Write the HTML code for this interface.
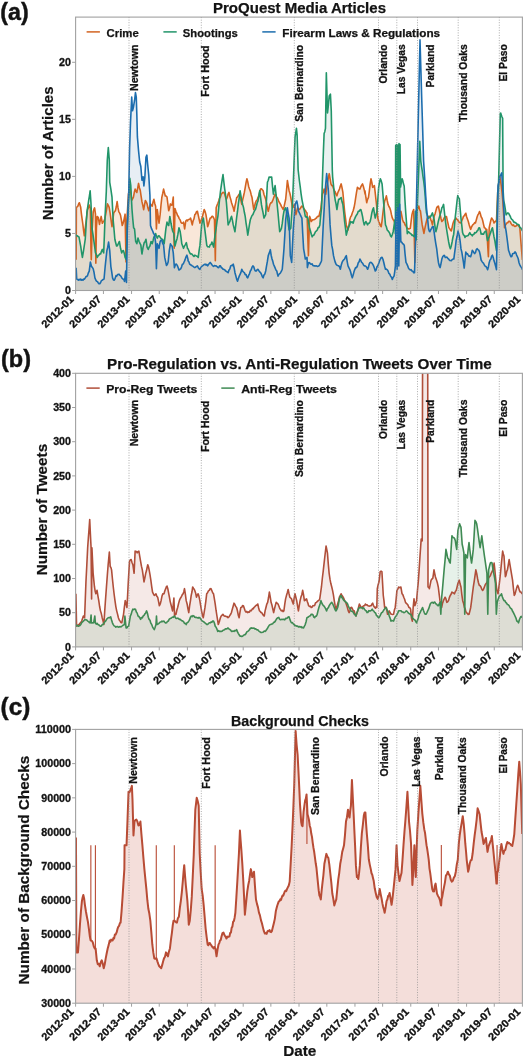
<!DOCTYPE html><html><head><meta charset="utf-8"><style>html,body{margin:0;padding:0;background:#fff;overflow:hidden}svg{display:block}#w{will-change:transform;transform:translateZ(0);opacity:0.99;filter:blur(0.45px)}text{font-family:"Liberation Sans",sans-serif}</style></head><body><div id="w"><svg width="527" height="1060" viewBox="0 0 527 1060" font-family='"Liberation Sans", sans-serif'>
<rect width="527" height="1060" fill="#ffffff"/>
<text x="0.30" y="19.70" font-size="23.5" text-anchor="start" font-weight="bold" fill="#111" stroke="#111" stroke-width="0.45" textLength="28.40" lengthAdjust="spacingAndGlyphs">(a)</text>
<text x="1.00" y="366.80" font-size="23.5" text-anchor="start" font-weight="bold" fill="#111" stroke="#111" stroke-width="0.45" textLength="30.00" lengthAdjust="spacingAndGlyphs">(b)</text>
<text x="0.60" y="714.60" font-size="23.5" text-anchor="start" font-weight="bold" fill="#111" stroke="#111" stroke-width="0.45" textLength="29.80" lengthAdjust="spacingAndGlyphs">(c)</text>
<clipPath id="clipa"><rect x="75.6" y="17.1" width="446.79999999999995" height="273.4"/></clipPath>
<g clip-path="url(#clipa)">
<path d="M76.14,290.50 L76.14,259.70 L76.37,207.33 L77.11,206.87 L77.85,206.19 L78.59,203.95 L79.33,202.77 L80.01,205.05 L80.69,207.33 L81.38,213.69 L82.06,218.71 L82.80,223.75 L83.54,230.10 L84.34,235.79 L85.08,229.54 L85.82,223.27 L86.67,216.67 L87.52,209.60 L88.38,207.93 L89.23,205.05 L90.37,208.46 L90.94,248.31 L91.28,259.70 L92.08,231.24 L93.22,211.88 L93.90,209.37 L94.58,207.89 L95.49,214.16 L95.84,263.12 L96.40,227.82 L97.20,216.43 L98.34,217.57 L99.48,224.40 L100.33,220.11 L101.19,216.43 L102.33,223.27 L103.18,221.76 L104.03,220.99 L104.89,218.38 L105.74,214.16 L106.60,209.31 L107.45,203.91 L108.30,205.44 L109.16,207.33 L110.01,212.47 L110.86,218.71 L112.00,226.68 L112.86,219.94 L113.71,213.02 L114.57,211.59 L115.42,210.74 L116.27,206.77 L117.13,201.63 L117.98,207.64 L118.83,211.88 L119.69,213.10 L120.54,215.30 L121.40,220.04 L122.25,225.54 L123.10,223.18 L123.96,219.85 L125.10,214.16 L126.01,261.98 L126.80,220.99 L127.66,207.34 L128.51,193.66 L129.37,190.98 L130.22,189.11 L130.96,194.13 L131.71,200.49 L132.56,198.90 L133.42,197.08 L134.27,192.54 L135.12,189.11 L135.98,190.99 L136.83,192.52 L137.69,188.16 L138.54,183.42 L139.39,187.69 L140.25,190.25 L141.10,196.18 L141.95,201.63 L142.81,205.42 L143.66,209.60 L144.52,204.94 L145.37,200.49 L146.22,201.85 L147.08,203.91 L147.93,208.04 L148.79,210.74 L149.64,206.90 L150.49,203.91 L151.35,205.39 L152.20,206.19 L153.06,201.92 L153.91,199.36 L154.76,203.42 L155.62,206.19 L156.41,228.96 L157.33,209.60 L158.18,216.34 L159.03,223.27 L160.17,214.16 L161.03,204.77 L161.88,197.08 L162.73,193.46 L163.59,189.11 L164.44,192.57 L165.30,195.94 L166.15,196.06 L167.00,197.08 L167.86,204.02 L168.71,210.74 L169.57,208.13 L170.42,203.91 L171.27,205.12 L172.13,205.05 L173.27,197.08 L174.18,248.31 L174.97,208.46 L175.83,211.34 L176.68,213.02 L177.54,215.62 L178.39,216.43 L179.24,218.61 L180.10,219.85 L180.95,222.36 L181.80,223.27 L182.66,223.19 L183.51,222.13 L184.65,228.96 L185.79,220.99 L186.64,220.14 L187.50,220.99 L188.00,219.77 L188.85,219.52 L189.71,219.34 L190.56,218.06 L191.42,221.49 L192.27,224.89 L193.12,220.72 L193.98,218.91 L194.83,214.64 L195.68,213.90 L196.54,211.66 L197.39,211.23 L198.25,215.27 L199.10,219.11 L199.95,223.18 L200.81,221.24 L201.66,218.73 L202.52,216.35 L203.37,212.69 L204.22,209.52 L205.08,211.48 L205.93,214.64 L206.78,219.96 L207.64,226.60 L208.49,224.28 L209.35,220.72 L210.20,218.06 L211.05,217.98 L211.91,216.31 L212.76,216.35 L213.61,217.73 L214.47,219.77 L215.32,260.75 L216.18,207.81 L217.03,205.28 L217.88,203.22 L218.74,200.98 L219.59,197.99 L220.45,197.15 L221.30,194.15 L222.15,193.17 L223.01,192.41 L223.86,192.45 L224.71,194.28 L225.57,197.23 L226.42,199.28 L227.28,197.27 L228.13,193.94 L228.98,192.45 L229.84,196.36 L230.69,199.16 L231.55,202.69 L232.40,205.16 L233.25,207.73 L234.11,211.23 L234.96,206.01 L235.81,202.31 L236.67,197.57 L237.52,196.85 L238.38,195.52 L239.23,194.15 L240.08,196.81 L240.94,200.62 L241.79,204.40 L242.64,199.85 L243.50,196.25 L244.35,192.45 L245.21,187.63 L246.06,182.57 L246.91,178.78 L247.77,181.85 L248.62,186.42 L249.48,189.03 L250.33,191.12 L251.18,194.66 L252.04,197.57 L252.89,203.94 L253.74,209.52 L254.60,206.04 L255.45,202.69 L256.31,200.70 L257.16,200.10 L258.01,197.57 L258.87,195.34 L259.72,191.95 L260.58,189.03 L261.43,188.75 L262.28,189.68 L263.14,190.74 L263.99,194.45 L264.84,196.75 L265.70,199.28 L266.55,203.16 L267.41,208.11 L268.26,211.23 L269.11,207.51 L269.97,204.40 L270.82,202.85 L271.67,202.65 L272.53,200.98 L273.38,198.73 L274.24,196.30 L275.09,194.15 L275.82,194.72 L276.55,197.27 L277.27,197.70 L278.00,199.28 L278.85,201.66 L279.71,203.03 L280.56,204.40 L281.42,206.39 L282.27,207.77 L283.12,209.52 L283.98,207.00 L284.83,203.12 L285.68,199.28 L286.54,190.36 L287.39,180.49 L288.25,185.70 L289.10,190.74 L289.95,193.52 L290.81,197.57 L291.66,202.46 L292.52,207.81 L293.37,206.86 L294.22,204.40 L295.08,209.61 L295.93,214.64 L296.78,211.08 L297.64,207.81 L298.49,209.15 L299.35,209.52 L300.20,208.61 L301.05,207.11 L301.91,206.11 L302.76,206.55 L303.61,208.17 L304.47,209.52 L305.32,210.33 L306.18,211.90 L307.03,212.94 L307.71,234.49 L308.40,255.63 L309.59,216.35 L310.45,218.48 L311.30,221.48 L312.15,220.19 L313.01,219.71 L313.86,219.77 L314.71,219.39 L315.57,218.45 L316.42,218.06 L317.28,216.62 L318.13,216.17 L318.98,216.35 L319.84,212.19 L320.69,209.52 L321.55,202.43 L322.40,194.15 L323.25,192.47 L324.11,189.03 L324.96,191.57 L325.81,194.15 L326.67,188.17 L327.52,182.20 L328.38,177.75 L329.23,173.66 L330.08,178.56 L330.94,183.91 L331.79,185.63 L332.64,185.61 L333.50,188.55 L334.35,190.74 L335.21,191.78 L336.06,194.55 L336.91,195.86 L337.77,192.80 L338.62,190.84 L339.48,189.03 L340.33,185.97 L341.18,183.91 L342.04,187.86 L342.89,192.45 L343.74,201.80 L344.60,211.23 L345.45,217.84 L346.31,224.89 L347.16,227.65 L348.01,230.01 L348.87,225.44 L349.72,219.77 L350.58,216.89 L351.43,215.74 L352.28,212.94 L353.14,210.77 L353.99,207.81 L354.84,203.37 L355.70,197.57 L356.55,192.12 L357.41,187.32 L358.26,188.07 L359.11,188.88 L359.97,189.03 L360.82,186.80 L361.67,185.14 L362.53,183.91 L363.38,186.57 L364.24,189.84 L365.09,194.15 L365.00,190.74 L365.85,197.24 L366.71,202.69 L367.56,199.38 L368.42,197.57 L369.27,191.58 L370.12,184.43 L370.98,178.78 L371.83,182.50 L372.68,187.32 L373.54,186.57 L374.39,185.61 L375.25,193.15 L376.10,200.98 L376.95,208.74 L377.81,218.06 L378.66,221.50 L379.52,223.18 L380.37,225.71 L381.22,226.60 L382.08,220.59 L382.93,212.94 L383.78,206.18 L384.64,200.98 L385.49,198.89 L386.35,195.86 L387.20,200.50 L388.05,204.40 L388.91,206.49 L389.76,207.81 L390.61,210.43 L391.47,214.64 L392.32,217.93 L393.18,219.77 L394.03,220.63 L394.88,223.18 L395.74,219.98 L396.59,218.06 L397.45,215.00 L398.30,212.94 L399.15,212.17 L400.01,211.42 L400.86,211.23 L401.71,215.50 L402.57,219.77 L403.42,222.03 L404.28,222.62 L405.13,224.89 L405.98,225.87 L406.84,227.92 L407.69,228.31 L408.55,228.97 L409.40,228.64 L410.25,228.31 L411.11,221.37 L411.96,214.64 L412.81,211.47 L413.67,209.52 L414.86,262.46 L415.55,236.75 L416.23,211.23 L417.08,209.44 L417.94,208.30 L418.79,206.11 L419.64,209.52 L420.50,211.23 L421.35,218.27 L422.21,224.89 L423.06,229.03 L423.91,233.43 L424.77,228.97 L425.62,224.89 L426.48,221.10 L427.33,218.06 L428.18,217.55 L429.04,216.29 L429.89,216.35 L430.74,219.55 L431.60,221.47 L432.45,224.89 L433.31,219.93 L434.16,216.35 L435.01,214.00 L435.87,210.88 L436.72,207.81 L437.58,206.51 L438.43,206.11 L439.28,210.47 L440.14,214.64 L440.99,218.52 L441.84,221.48 L442.57,220.68 L443.30,219.97 L444.03,218.06 L444.84,217.22 L445.65,216.60 L446.45,216.45 L447.26,220.31 L448.06,223.76 L448.87,227.74 L449.68,228.54 L450.48,230.15 L451.29,230.97 L452.10,227.48 L452.90,223.78 L453.71,221.29 L454.52,219.73 L455.32,219.17 L456.13,218.06 L456.94,219.38 L457.74,219.97 L458.55,221.29 L459.35,222.56 L460.16,222.76 L460.97,222.90 L461.77,220.58 L462.58,219.00 L463.39,216.45 L464.19,215.93 L465.00,214.39 L465.81,213.23 L466.61,216.73 L467.42,219.04 L468.23,221.29 L469.03,224.32 L469.84,227.10 L470.65,229.35 L471.45,227.21 L472.26,225.53 L473.06,224.52 L473.87,223.86 L474.68,222.56 L475.48,222.90 L476.29,220.03 L477.10,217.02 L477.90,214.84 L478.71,213.63 L479.52,211.61 L480.32,213.60 L481.13,216.78 L481.94,218.06 L482.74,220.79 L483.55,224.40 L484.35,227.74 L485.16,228.00 L485.97,229.68 L486.77,229.35 L487.58,243.37 L488.39,256.77 L489.19,227.74 L490.00,223.96 L490.81,220.45 L491.61,218.06 L492.42,219.22 L493.23,220.40 L494.03,222.90 L494.84,222.08 L495.65,221.02 L496.45,221.29 L497.10,206.30 L497.74,192.26 L498.71,183.53 L499.68,176.13 L500.48,180.70 L501.29,185.81 L502.10,193.22 L502.90,201.94 L503.71,215.68 L504.52,227.74 L505.32,225.30 L506.13,224.11 L506.94,222.90 L507.74,222.76 L508.55,221.28 L509.35,221.29 L510.16,221.64 L510.97,223.40 L511.77,224.52 L512.58,225.49 L513.39,224.73 L514.19,226.13 L515.00,226.47 L515.81,226.02 L516.61,225.80 L517.42,224.52 L518.23,224.94 L519.03,226.25 L519.84,227.74 L520.65,238.51 L521.45,248.71 L522.40,260.00 L522.40,290.50Z" fill="#d55e00" fill-opacity="0.15" stroke="none"/>
<path d="M75.60,290.50 L75.60,234.65 L76.42,235.66 L77.28,235.79 L78.13,236.59 L78.98,236.93 L79.84,241.59 L80.69,246.04 L81.55,252.26 L82.40,257.42 L83.54,250.59 L84.39,245.00 L85.25,239.21 L86.10,225.32 L86.95,211.88 L87.81,206.43 L88.66,200.49 L89.40,196.06 L90.14,190.82 L90.94,202.77 L92.08,228.96 L92.93,234.09 L93.79,240.34 L94.64,246.31 L95.49,252.87 L96.35,254.32 L97.20,257.42 L98.06,255.86 L98.91,255.15 L99.76,253.84 L100.62,254.01 L101.47,251.24 L102.33,249.45 L103.01,251.45 L103.69,252.87 L104.43,234.26 L105.17,214.16 L106.31,191.39 L107.30,160.00 L108.30,147.50 L109.30,160.00 L109.73,182.28 L110.86,189.11 L112.00,197.08 L113.14,219.85 L114.00,229.29 L114.85,239.21 L115.70,242.72 L116.56,246.04 L117.41,245.68 L118.27,243.76 L119.40,241.48 L120.54,248.31 L121.68,252.87 L122.54,250.94 L123.39,250.59 L124.24,253.25 L125.10,257.42 L126.24,259.70 L127.37,225.54 L128.18,210.27 L128.99,194.62 L129.80,178.20 L130.79,185.69 L131.93,208.46 L132.78,219.01 L133.64,227.82 L134.55,228.96 L135.69,241.48 L136.83,243.76 L137.97,238.07 L139.11,241.48 L139.96,243.41 L140.82,244.90 L141.95,254.01 L143.09,247.18 L144.23,242.62 L145.09,241.68 L145.94,239.21 L147.08,247.18 L148.22,249.45 L149.07,247.19 L149.92,246.04 L151.06,241.48 L152.20,243.76 L153.06,240.64 L153.91,236.93 L154.76,235.96 L155.62,233.51 L156.47,236.34 L157.33,238.07 L158.18,236.04 L159.03,235.79 L159.89,236.88 L160.74,238.07 L161.60,238.96 L162.45,239.21 L163.30,240.87 L164.16,243.76 L165.01,236.62 L165.86,228.96 L167.00,222.13 L167.86,224.73 L168.71,225.54 L169.85,216.43 L170.99,223.27 L171.84,227.51 L172.70,231.24 L173.83,233.51 L174.97,246.04 L176.11,241.48 L176.97,238.94 L177.82,234.65 L178.96,227.82 L180.10,231.24 L180.95,236.91 L181.80,243.76 L182.66,245.97 L183.51,248.31 L184.37,246.10 L185.22,244.90 L186.36,242.62 L187.50,248.31 L188.00,248.80 L188.85,250.72 L189.71,252.73 L190.56,253.92 L191.42,253.77 L192.27,254.42 L193.12,255.63 L193.98,256.50 L194.83,255.19 L195.68,255.63 L196.54,256.10 L197.39,256.43 L198.25,257.34 L199.10,250.61 L199.95,245.38 L200.81,235.52 L201.66,224.89 L202.52,220.70 L203.37,218.06 L204.22,224.55 L205.08,231.72 L205.93,238.42 L206.78,245.38 L207.64,246.75 L208.49,246.82 L209.35,247.09 L210.20,244.68 L211.05,244.46 L211.91,241.97 L212.76,244.19 L213.61,247.09 L214.47,239.69 L215.32,233.43 L216.18,227.84 L217.03,221.45 L217.88,216.35 L218.74,207.33 L219.59,199.28 L220.45,191.60 L221.30,185.61 L222.15,179.95 L223.01,174.52 L223.86,181.99 L224.71,189.03 L225.57,195.01 L226.42,202.69 L227.28,213.33 L228.13,224.89 L228.98,222.83 L229.84,221.48 L230.69,218.31 L231.55,216.35 L232.40,220.15 L233.25,224.89 L234.11,228.37 L234.96,231.72 L235.81,224.71 L236.67,217.29 L237.52,211.23 L238.38,203.58 L239.23,197.85 L240.08,190.74 L240.94,195.98 L241.79,200.72 L242.64,204.40 L243.50,207.48 L244.35,212.27 L245.21,216.35 L246.06,223.10 L246.91,228.31 L247.77,235.14 L248.62,229.87 L249.48,224.37 L250.33,219.77 L251.18,217.47 L252.04,215.47 L252.89,214.64 L253.74,212.51 L254.60,210.60 L255.45,209.52 L256.31,206.49 L257.16,202.97 L258.01,200.98 L258.87,196.03 L259.72,190.74 L260.58,197.30 L261.43,204.40 L262.28,209.02 L263.14,213.08 L263.99,218.06 L264.84,216.25 L265.70,214.64 L266.55,198.70 L267.41,182.20 L268.26,180.26 L269.11,177.08 L269.97,177.32 L270.82,177.00 L271.67,177.08 L272.53,186.49 L273.38,194.15 L274.24,189.41 L275.09,185.61 L275.82,192.36 L276.55,198.77 L277.27,205.77 L278.00,212.94 L278.85,222.55 L279.71,231.72 L280.56,230.26 L281.42,228.31 L282.27,223.40 L283.12,216.08 L283.98,211.23 L284.83,208.98 L285.68,207.81 L286.54,212.23 L287.39,216.35 L288.25,223.47 L289.10,230.01 L289.95,229.36 L290.81,228.31 L291.66,215.04 L292.52,202.69 L293.37,181.50 L294.22,158.25 L295.08,136.84 L295.76,132.63 L296.44,128.31 L297.13,135.14 L298.15,169.97 L299.35,180.49 L300.20,186.56 L301.05,193.61 L301.91,199.28 L302.76,203.67 L303.61,207.81 L304.47,211.66 L305.32,216.35 L306.18,217.12 L307.03,216.89 L307.88,218.06 L308.74,223.46 L309.59,228.31 L310.45,230.96 L311.30,234.24 L312.15,236.84 L313.01,235.27 L313.86,235.18 L314.71,233.43 L315.57,231.52 L316.42,230.80 L317.28,230.01 L318.13,227.61 L318.98,227.43 L319.84,224.89 L320.69,215.52 L321.55,207.81 L322.74,169.97 L323.42,150.94 L324.11,133.43 L324.79,131.68 L325.47,128.31 L326.33,72.81 L327.52,112.94 L328.38,105.27 L329.23,95.86 L330.42,94.15 L331.28,111.23 L332.30,169.97 L332.64,177.08 L333.50,185.43 L334.35,194.15 L335.21,200.06 L336.06,203.91 L336.91,209.52 L337.77,204.01 L338.62,199.28 L339.48,199.12 L340.33,198.34 L341.18,197.57 L342.04,201.79 L342.89,204.40 L343.74,212.35 L344.60,221.48 L345.45,227.90 L346.31,235.14 L347.16,231.59 L348.01,228.31 L348.87,226.38 L349.72,224.60 L350.58,221.48 L351.43,222.39 L352.28,221.90 L353.14,223.18 L353.99,220.26 L354.84,218.40 L355.70,216.35 L356.55,214.99 L357.41,213.77 L358.26,211.23 L359.11,211.26 L359.97,209.90 L360.82,209.52 L361.67,212.55 L362.53,216.35 L363.38,221.41 L364.24,224.89 L365.09,222.83 L365.94,221.48 L366.75,223.20 L367.56,224.89 L368.42,223.20 L369.27,223.25 L370.12,221.48 L370.98,217.85 L371.83,212.94 L372.68,209.66 L373.54,207.81 L374.39,213.49 L375.25,218.06 L376.10,214.90 L376.95,211.23 L377.81,199.91 L378.66,187.32 L379.52,182.30 L380.37,178.78 L381.22,180.90 L382.08,183.91 L382.93,194.27 L383.78,204.40 L384.64,215.06 L385.49,224.89 L386.35,226.77 L387.20,230.01 L388.05,230.82 L388.91,231.91 L389.76,233.43 L390.61,235.92 L391.47,236.84 L392.32,234.50 L393.18,231.72 L394.03,225.76 L394.88,219.77 L395.37,233.73 L395.68,145.56 L396.00,223.36 L396.31,144.52 L396.62,228.55 L396.93,145.56 L397.24,223.36 L397.55,145.04 L397.86,228.55 L398.17,145.56 L398.49,223.36 L399.00,143.49 L399.52,218.17 L400.04,144.52 L400.56,187.05 L401.34,182.31 L402.12,178.76 L402.81,180.87 L403.50,184.08 L404.19,186.02 L404.97,200.24 L405.75,212.99 L406.52,222.70 L407.30,233.73 L407.92,232.51 L408.55,231.72 L409.40,232.72 L410.25,233.43 L411.11,233.87 L411.96,235.36 L412.81,235.14 L413.67,236.22 L414.52,236.84 L415.38,211.23 L416.12,239.96 L416.85,219.37 L417.57,199.73 L418.30,180.26 L419.02,161.98 L419.75,141.41 L420.79,161.12 L421.57,166.62 L422.34,171.49 L423.04,176.78 L423.73,181.38 L424.42,187.05 L425.11,195.03 L425.80,205.19 L426.49,212.99 L427.19,214.48 L427.88,217.29 L428.57,218.17 L429.29,217.45 L430.02,217.17 L430.74,216.35 L431.60,214.58 L432.45,212.94 L433.31,216.25 L434.16,219.77 L435.01,226.55 L435.87,231.72 L436.72,228.72 L437.58,224.89 L438.43,220.94 L439.28,217.62 L440.14,214.64 L440.99,211.84 L441.84,207.81 L442.70,206.68 L443.55,204.40 L444.41,212.05 L445.26,219.77 L446.11,226.03 L446.97,231.72 L447.82,236.76 L448.67,241.97 L449.53,246.17 L450.38,248.80 L451.24,246.03 L452.09,241.97 L452.90,237.49 L453.71,234.19 L454.52,225.09 L455.32,216.45 L456.13,209.35 L456.94,201.82 L457.74,195.48 L458.55,197.76 L459.35,198.71 L460.16,208.79 L460.97,218.06 L461.77,225.18 L462.58,232.58 L463.39,234.79 L464.19,235.31 L465.00,237.42 L465.81,235.99 L466.61,236.11 L467.42,235.81 L468.23,235.43 L469.03,233.94 L469.84,232.58 L470.65,234.30 L471.45,234.64 L472.26,235.81 L473.06,234.45 L473.87,234.37 L474.68,232.58 L475.48,232.93 L476.29,232.30 L477.10,230.97 L477.90,230.28 L478.71,228.04 L479.52,227.74 L480.32,230.09 L481.13,234.19 L481.94,233.58 L482.74,234.32 L483.55,234.19 L484.35,232.26 L485.16,231.45 L485.97,230.97 L486.77,236.48 L487.58,240.65 L488.39,238.30 L489.19,236.84 L490.00,234.19 L490.81,232.12 L491.61,229.41 L492.42,227.74 L493.23,232.11 L494.03,236.93 L494.84,240.65 L495.65,245.79 L496.45,250.32 L497.10,220.96 L497.74,192.26 L498.40,190.00 L499.34,151.84 L500.28,113.58 L500.75,113.11 L501.70,116.24 L502.64,118.30 L503.11,190.00 L503.71,200.32 L504.52,204.43 L505.32,209.40 L506.13,214.84 L506.94,213.83 L507.74,212.91 L508.55,213.23 L509.35,214.62 L510.16,216.19 L510.97,218.06 L511.77,219.38 L512.58,219.84 L513.39,221.29 L514.19,222.52 L515.00,222.39 L515.81,222.90 L516.61,223.79 L517.42,224.39 L518.23,224.52 L519.03,225.01 L519.84,227.53 L520.65,227.74 L521.61,229.12 L522.40,230.97 L522.40,290.50Z" fill="#28786e" fill-opacity="0.1" stroke="none"/>
<path d="M76.14,290.50 L76.14,267.67 L76.71,279.05 L77.56,279.40 L78.42,280.19 L79.17,279.27 L79.93,279.91 L80.69,279.05 L81.45,280.20 L82.21,279.49 L82.97,280.19 L83.73,279.04 L84.49,279.17 L85.25,277.92 L86.01,276.52 L86.77,276.37 L87.52,275.64 L88.38,272.82 L89.23,271.09 L90.37,261.98 L91.51,266.53 L92.36,267.42 L93.22,268.81 L94.07,272.51 L94.92,277.92 L95.78,280.00 L96.63,281.33 L97.39,281.54 L98.15,282.73 L98.91,283.61 L99.76,283.68 L100.62,282.47 L101.47,280.46 L102.33,280.19 L103.18,279.42 L104.03,279.05 L105.17,266.53 L106.03,258.44 L106.88,250.59 L107.73,247.13 L108.59,242.05 L109.73,250.59 L110.86,266.53 L111.72,271.78 L112.57,277.92 L113.43,279.91 L114.28,280.19 L115.13,278.33 L115.99,275.64 L116.75,276.12 L117.51,274.60 L118.27,274.50 L119.02,274.11 L119.78,275.25 L120.54,275.64 L121.30,276.95 L122.06,278.24 L122.82,279.05 L123.67,279.31 L124.53,281.33 L125.67,271.09 L126.46,282.47 L127.37,225.54 L128.09,207.43 L128.80,190.00 L129.60,148.30 L130.50,122.70 L130.91,114.16 L131.71,97.08 L132.50,110.74 L133.42,107.33 L134.55,100.49 L135.47,92.52 L136.26,97.08 L136.83,114.16 L137.40,136.93 L138.54,150.59 L139.68,161.98 L140.82,166.53 L141.95,180.19 L143.09,176.78 L143.89,185.89 L144.80,177.92 L145.94,157.42 L146.85,155.15 L147.65,164.25 L148.79,175.64 L149.92,194.99 L150.49,225.54 L151.63,228.96 L152.77,231.24 L153.63,233.61 L154.48,234.65 L155.62,242.62 L156.41,268.81 L157.33,243.76 L158.18,246.37 L159.03,248.31 L160.17,241.48 L161.03,240.14 L161.88,240.34 L162.73,243.48 L163.59,244.90 L164.73,257.42 L165.58,261.43 L166.43,265.39 L167.29,264.39 L168.14,261.98 L169.28,250.59 L170.42,243.76 L171.27,245.46 L172.13,246.04 L173.27,252.87 L174.40,267.67 L175.54,264.25 L176.40,264.17 L177.25,265.39 L178.10,267.50 L178.96,269.95 L179.81,269.47 L180.67,268.81 L181.52,267.09 L182.37,264.25 L183.23,263.99 L184.08,261.98 L184.94,260.12 L185.79,257.42 L186.93,255.15 L188.07,259.70 L188.00,260.75 L188.85,261.77 L189.71,264.17 L190.56,264.72 L191.42,265.24 L192.27,265.87 L193.12,266.40 L193.98,267.15 L194.83,267.58 L195.68,267.03 L196.54,266.43 L197.39,265.87 L198.25,267.66 L199.10,268.73 L199.95,269.29 L200.81,267.52 L201.66,266.46 L202.52,265.87 L203.37,265.21 L204.22,264.52 L205.08,264.17 L205.93,265.05 L206.78,264.46 L207.64,265.87 L208.49,264.58 L209.35,263.37 L210.20,262.46 L211.05,263.52 L211.91,264.76 L212.76,265.87 L213.61,266.41 L214.47,265.48 L215.32,265.87 L216.18,265.85 L217.03,266.53 L217.88,267.58 L218.74,267.70 L219.59,265.82 L220.45,265.87 L221.30,267.70 L222.15,268.07 L223.01,269.29 L223.86,269.37 L224.71,269.74 L225.57,271.00 L226.42,271.27 L227.28,272.04 L228.13,272.70 L228.98,269.96 L229.84,268.94 L230.69,265.87 L231.55,265.34 L232.40,265.63 L233.25,264.17 L234.11,267.70 L234.96,272.70 L235.81,275.74 L236.67,279.16 L237.52,281.24 L238.38,278.41 L239.23,276.12 L240.08,274.32 L240.94,272.40 L241.79,269.29 L242.64,271.20 L243.50,272.00 L244.35,272.70 L245.21,274.63 L246.06,274.48 L246.91,277.08 L247.77,277.83 L248.62,275.40 L249.48,273.78 L250.33,271.00 L251.18,269.74 L252.04,267.18 L252.89,265.87 L253.74,266.77 L254.60,269.53 L255.45,271.00 L256.31,270.94 L257.16,269.66 L258.01,269.29 L258.87,270.71 L259.72,271.86 L260.58,272.70 L261.43,274.25 L262.28,276.56 L263.14,277.83 L263.99,275.07 L264.84,273.95 L265.70,271.00 L266.55,265.80 L267.41,261.21 L268.26,255.63 L268.94,253.68 L269.63,252.17 L270.31,249.65 L271.16,255.23 L272.02,259.04 L272.76,261.14 L273.50,264.23 L274.24,265.87 L275.09,267.89 L275.94,269.97 L276.80,271.00 L277.40,273.83 L278.00,276.12 L278.85,274.30 L279.71,273.68 L280.56,272.70 L281.42,271.22 L282.27,269.29 L283.12,259.44 L283.98,248.80 L284.83,234.88 L285.68,219.77 L286.54,213.04 L287.39,207.81 L288.25,213.51 L289.10,218.06 L290.30,255.63 L290.98,258.71 L291.66,262.46 L292.52,244.90 L293.37,228.31 L294.22,217.08 L295.08,204.40 L295.93,202.48 L296.78,200.98 L297.64,205.23 L298.49,211.23 L299.35,212.71 L300.20,214.64 L301.05,216.43 L301.91,218.06 L302.76,234.22 L303.61,248.80 L304.47,253.63 L305.32,259.04 L306.18,258.48 L307.03,257.34 L307.37,267.58 L308.05,264.48 L308.74,262.46 L309.59,262.82 L310.45,263.98 L311.30,264.17 L312.15,263.84 L313.01,265.53 L313.86,265.87 L314.71,265.81 L315.57,266.09 L316.42,265.87 L317.28,266.39 L318.13,266.20 L318.98,265.87 L319.84,264.37 L320.69,262.71 L321.55,260.75 L322.40,242.83 L323.25,224.89 L324.11,209.94 L324.96,194.15 L325.81,183.24 L326.67,173.66 L327.52,181.73 L328.38,190.74 L329.23,206.97 L330.08,224.89 L330.94,235.55 L331.79,245.38 L332.64,249.66 L333.50,255.63 L334.35,259.09 L335.21,262.18 L336.06,264.17 L336.91,265.14 L337.77,265.56 L338.62,265.87 L339.48,266.70 L340.33,269.29 L341.18,265.33 L342.04,262.46 L342.89,260.84 L343.74,259.85 L344.60,259.04 L345.45,256.93 L346.31,255.63 L347.16,261.36 L348.01,265.87 L348.87,267.70 L349.72,269.29 L350.58,271.78 L351.43,275.22 L352.28,277.83 L353.14,274.93 L353.99,271.87 L354.84,269.29 L355.70,267.44 L356.55,267.66 L357.41,265.87 L358.26,262.73 L359.11,261.79 L359.97,259.04 L360.82,260.54 L361.67,262.46 L362.53,263.05 L363.38,264.70 L364.24,265.87 L365.09,265.89 L365.94,266.37 L366.80,267.58 L367.56,269.29 L368.42,267.43 L369.27,263.88 L370.12,262.46 L370.98,262.31 L371.83,263.00 L372.68,264.17 L373.54,265.85 L374.39,268.24 L375.25,271.00 L376.10,269.89 L376.95,266.82 L377.81,265.87 L378.66,263.56 L379.52,261.00 L380.37,259.04 L381.22,257.45 L382.08,257.34 L382.93,259.26 L383.78,262.46 L384.64,266.24 L385.49,269.29 L386.35,269.04 L387.20,269.76 L388.05,271.00 L388.91,273.40 L389.76,274.13 L390.61,276.12 L391.47,277.28 L392.32,279.54 L393.18,277.27 L394.03,276.12 L394.71,271.87 L395.40,265.87 L396.08,211.23 L397.10,269.29 L397.79,207.81 L398.81,265.87 L399.67,204.40 L400.86,241.97 L401.71,242.03 L402.57,243.67 L403.42,244.00 L404.28,245.38 L405.13,254.78 L405.98,262.46 L406.84,263.89 L407.69,265.87 L408.55,268.31 L409.40,269.29 L410.25,269.97 L411.11,269.60 L411.96,271.00 L412.81,271.23 L413.67,272.76 L414.52,272.70 L415.20,250.19 L415.89,228.31 L416.71,190.41 L417.53,153.16 L418.36,114.39 L419.18,77.78 L420.00,39.90 L420.90,70.21 L421.79,100.67 L422.69,129.95 L423.59,161.12 L424.26,171.08 L424.94,181.87 L425.72,195.73 L426.49,207.80 L427.19,214.74 L427.88,221.67 L428.57,228.55 L429.23,230.99 L429.89,231.72 L430.74,229.71 L431.60,228.31 L432.45,226.71 L433.31,226.60 L434.16,232.35 L435.01,238.55 L435.87,244.01 L436.72,248.80 L437.58,256.34 L438.43,262.46 L439.28,265.82 L440.14,267.58 L440.99,263.57 L441.84,259.04 L442.70,256.77 L443.55,255.63 L444.41,255.41 L445.26,257.49 L446.11,257.34 L446.97,257.15 L447.82,258.28 L448.67,259.04 L449.53,260.36 L450.38,260.43 L451.24,260.75 L452.09,259.71 L452.94,259.07 L453.80,259.04 L454.57,253.22 L455.35,247.52 L456.13,240.65 L457.10,236.27 L458.06,230.97 L458.71,234.11 L459.35,235.81 L460.16,241.44 L460.97,248.71 L461.77,251.90 L462.58,256.77 L463.39,261.80 L464.19,268.06 L465.00,260.27 L465.81,251.94 L466.61,253.91 L467.42,253.65 L468.23,255.16 L469.03,256.28 L469.84,256.10 L470.65,256.77 L471.45,253.99 L472.26,250.32 L473.06,251.20 L473.87,252.67 L474.68,253.55 L475.48,252.58 L476.29,249.59 L477.10,248.71 L477.90,249.59 L478.71,250.17 L479.52,251.94 L480.32,255.50 L481.13,260.00 L481.94,261.37 L482.74,262.59 L483.55,263.23 L484.35,265.02 L485.16,266.15 L485.97,266.45 L486.77,267.65 L487.58,269.68 L488.39,266.93 L489.19,262.69 L490.00,260.00 L490.81,259.26 L491.61,256.21 L492.42,255.16 L493.23,257.46 L494.03,260.85 L494.84,263.23 L495.65,266.19 L496.45,269.68 L497.26,227.05 L498.06,185.81 L499.03,181.73 L500.00,176.13 L500.89,174.68 L501.77,172.90 L502.90,192.26 L503.71,206.95 L504.52,221.29 L505.32,226.63 L506.13,231.30 L506.94,237.42 L507.74,243.57 L508.55,250.32 L509.35,252.49 L510.16,254.88 L510.97,256.77 L511.77,256.51 L512.58,253.84 L513.39,253.55 L514.19,253.25 L515.00,251.94 L515.81,252.74 L516.61,255.10 L517.42,256.77 L518.23,258.76 L519.03,262.78 L519.84,264.84 L520.75,266.62 L521.67,267.83 L522.40,269.68 L522.40,290.50Z" fill="#145a96" fill-opacity="0.1" stroke="none"/>
<path d="M76.14,259.70 L76.37,207.33 L77.11,206.87 L77.85,206.19 L78.59,203.95 L79.33,202.77 L80.01,205.05 L80.69,207.33 L81.38,213.69 L82.06,218.71 L82.80,223.75 L83.54,230.10 L84.34,235.79 L85.08,229.54 L85.82,223.27 L86.67,216.67 L87.52,209.60 L88.38,207.93 L89.23,205.05 L90.37,208.46 L90.94,248.31 L91.28,259.70 L92.08,231.24 L93.22,211.88 L93.90,209.37 L94.58,207.89 L95.49,214.16 L95.84,263.12 L96.40,227.82 L97.20,216.43 L98.34,217.57 L99.48,224.40 L100.33,220.11 L101.19,216.43 L102.33,223.27 L103.18,221.76 L104.03,220.99 L104.89,218.38 L105.74,214.16 L106.60,209.31 L107.45,203.91 L108.30,205.44 L109.16,207.33 L110.01,212.47 L110.86,218.71 L112.00,226.68 L112.86,219.94 L113.71,213.02 L114.57,211.59 L115.42,210.74 L116.27,206.77 L117.13,201.63 L117.98,207.64 L118.83,211.88 L119.69,213.10 L120.54,215.30 L121.40,220.04 L122.25,225.54 L123.10,223.18 L123.96,219.85 L125.10,214.16 L126.01,261.98 L126.80,220.99 L127.66,207.34 L128.51,193.66 L129.37,190.98 L130.22,189.11 L130.96,194.13 L131.71,200.49 L132.56,198.90 L133.42,197.08 L134.27,192.54 L135.12,189.11 L135.98,190.99 L136.83,192.52 L137.69,188.16 L138.54,183.42 L139.39,187.69 L140.25,190.25 L141.10,196.18 L141.95,201.63 L142.81,205.42 L143.66,209.60 L144.52,204.94 L145.37,200.49 L146.22,201.85 L147.08,203.91 L147.93,208.04 L148.79,210.74 L149.64,206.90 L150.49,203.91 L151.35,205.39 L152.20,206.19 L153.06,201.92 L153.91,199.36 L154.76,203.42 L155.62,206.19 L156.41,228.96 L157.33,209.60 L158.18,216.34 L159.03,223.27 L160.17,214.16 L161.03,204.77 L161.88,197.08 L162.73,193.46 L163.59,189.11 L164.44,192.57 L165.30,195.94 L166.15,196.06 L167.00,197.08 L167.86,204.02 L168.71,210.74 L169.57,208.13 L170.42,203.91 L171.27,205.12 L172.13,205.05 L173.27,197.08 L174.18,248.31 L174.97,208.46 L175.83,211.34 L176.68,213.02 L177.54,215.62 L178.39,216.43 L179.24,218.61 L180.10,219.85 L180.95,222.36 L181.80,223.27 L182.66,223.19 L183.51,222.13 L184.65,228.96 L185.79,220.99 L186.64,220.14 L187.50,220.99 L188.00,219.77 L188.85,219.52 L189.71,219.34 L190.56,218.06 L191.42,221.49 L192.27,224.89 L193.12,220.72 L193.98,218.91 L194.83,214.64 L195.68,213.90 L196.54,211.66 L197.39,211.23 L198.25,215.27 L199.10,219.11 L199.95,223.18 L200.81,221.24 L201.66,218.73 L202.52,216.35 L203.37,212.69 L204.22,209.52 L205.08,211.48 L205.93,214.64 L206.78,219.96 L207.64,226.60 L208.49,224.28 L209.35,220.72 L210.20,218.06 L211.05,217.98 L211.91,216.31 L212.76,216.35 L213.61,217.73 L214.47,219.77 L215.32,260.75 L216.18,207.81 L217.03,205.28 L217.88,203.22 L218.74,200.98 L219.59,197.99 L220.45,197.15 L221.30,194.15 L222.15,193.17 L223.01,192.41 L223.86,192.45 L224.71,194.28 L225.57,197.23 L226.42,199.28 L227.28,197.27 L228.13,193.94 L228.98,192.45 L229.84,196.36 L230.69,199.16 L231.55,202.69 L232.40,205.16 L233.25,207.73 L234.11,211.23 L234.96,206.01 L235.81,202.31 L236.67,197.57 L237.52,196.85 L238.38,195.52 L239.23,194.15 L240.08,196.81 L240.94,200.62 L241.79,204.40 L242.64,199.85 L243.50,196.25 L244.35,192.45 L245.21,187.63 L246.06,182.57 L246.91,178.78 L247.77,181.85 L248.62,186.42 L249.48,189.03 L250.33,191.12 L251.18,194.66 L252.04,197.57 L252.89,203.94 L253.74,209.52 L254.60,206.04 L255.45,202.69 L256.31,200.70 L257.16,200.10 L258.01,197.57 L258.87,195.34 L259.72,191.95 L260.58,189.03 L261.43,188.75 L262.28,189.68 L263.14,190.74 L263.99,194.45 L264.84,196.75 L265.70,199.28 L266.55,203.16 L267.41,208.11 L268.26,211.23 L269.11,207.51 L269.97,204.40 L270.82,202.85 L271.67,202.65 L272.53,200.98 L273.38,198.73 L274.24,196.30 L275.09,194.15 L275.82,194.72 L276.55,197.27 L277.27,197.70 L278.00,199.28 L278.85,201.66 L279.71,203.03 L280.56,204.40 L281.42,206.39 L282.27,207.77 L283.12,209.52 L283.98,207.00 L284.83,203.12 L285.68,199.28 L286.54,190.36 L287.39,180.49 L288.25,185.70 L289.10,190.74 L289.95,193.52 L290.81,197.57 L291.66,202.46 L292.52,207.81 L293.37,206.86 L294.22,204.40 L295.08,209.61 L295.93,214.64 L296.78,211.08 L297.64,207.81 L298.49,209.15 L299.35,209.52 L300.20,208.61 L301.05,207.11 L301.91,206.11 L302.76,206.55 L303.61,208.17 L304.47,209.52 L305.32,210.33 L306.18,211.90 L307.03,212.94 L307.71,234.49 L308.40,255.63 L309.59,216.35 L310.45,218.48 L311.30,221.48 L312.15,220.19 L313.01,219.71 L313.86,219.77 L314.71,219.39 L315.57,218.45 L316.42,218.06 L317.28,216.62 L318.13,216.17 L318.98,216.35 L319.84,212.19 L320.69,209.52 L321.55,202.43 L322.40,194.15 L323.25,192.47 L324.11,189.03 L324.96,191.57 L325.81,194.15 L326.67,188.17 L327.52,182.20 L328.38,177.75 L329.23,173.66 L330.08,178.56 L330.94,183.91 L331.79,185.63 L332.64,185.61 L333.50,188.55 L334.35,190.74 L335.21,191.78 L336.06,194.55 L336.91,195.86 L337.77,192.80 L338.62,190.84 L339.48,189.03 L340.33,185.97 L341.18,183.91 L342.04,187.86 L342.89,192.45 L343.74,201.80 L344.60,211.23 L345.45,217.84 L346.31,224.89 L347.16,227.65 L348.01,230.01 L348.87,225.44 L349.72,219.77 L350.58,216.89 L351.43,215.74 L352.28,212.94 L353.14,210.77 L353.99,207.81 L354.84,203.37 L355.70,197.57 L356.55,192.12 L357.41,187.32 L358.26,188.07 L359.11,188.88 L359.97,189.03 L360.82,186.80 L361.67,185.14 L362.53,183.91 L363.38,186.57 L364.24,189.84 L365.09,194.15 L365.00,190.74 L365.85,197.24 L366.71,202.69 L367.56,199.38 L368.42,197.57 L369.27,191.58 L370.12,184.43 L370.98,178.78 L371.83,182.50 L372.68,187.32 L373.54,186.57 L374.39,185.61 L375.25,193.15 L376.10,200.98 L376.95,208.74 L377.81,218.06 L378.66,221.50 L379.52,223.18 L380.37,225.71 L381.22,226.60 L382.08,220.59 L382.93,212.94 L383.78,206.18 L384.64,200.98 L385.49,198.89 L386.35,195.86 L387.20,200.50 L388.05,204.40 L388.91,206.49 L389.76,207.81 L390.61,210.43 L391.47,214.64 L392.32,217.93 L393.18,219.77 L394.03,220.63 L394.88,223.18 L395.74,219.98 L396.59,218.06 L397.45,215.00 L398.30,212.94 L399.15,212.17 L400.01,211.42 L400.86,211.23 L401.71,215.50 L402.57,219.77 L403.42,222.03 L404.28,222.62 L405.13,224.89 L405.98,225.87 L406.84,227.92 L407.69,228.31 L408.55,228.97 L409.40,228.64 L410.25,228.31 L411.11,221.37 L411.96,214.64 L412.81,211.47 L413.67,209.52 L414.86,262.46 L415.55,236.75 L416.23,211.23 L417.08,209.44 L417.94,208.30 L418.79,206.11 L419.64,209.52 L420.50,211.23 L421.35,218.27 L422.21,224.89 L423.06,229.03 L423.91,233.43 L424.77,228.97 L425.62,224.89 L426.48,221.10 L427.33,218.06 L428.18,217.55 L429.04,216.29 L429.89,216.35 L430.74,219.55 L431.60,221.47 L432.45,224.89 L433.31,219.93 L434.16,216.35 L435.01,214.00 L435.87,210.88 L436.72,207.81 L437.58,206.51 L438.43,206.11 L439.28,210.47 L440.14,214.64 L440.99,218.52 L441.84,221.48 L442.57,220.68 L443.30,219.97 L444.03,218.06 L444.84,217.22 L445.65,216.60 L446.45,216.45 L447.26,220.31 L448.06,223.76 L448.87,227.74 L449.68,228.54 L450.48,230.15 L451.29,230.97 L452.10,227.48 L452.90,223.78 L453.71,221.29 L454.52,219.73 L455.32,219.17 L456.13,218.06 L456.94,219.38 L457.74,219.97 L458.55,221.29 L459.35,222.56 L460.16,222.76 L460.97,222.90 L461.77,220.58 L462.58,219.00 L463.39,216.45 L464.19,215.93 L465.00,214.39 L465.81,213.23 L466.61,216.73 L467.42,219.04 L468.23,221.29 L469.03,224.32 L469.84,227.10 L470.65,229.35 L471.45,227.21 L472.26,225.53 L473.06,224.52 L473.87,223.86 L474.68,222.56 L475.48,222.90 L476.29,220.03 L477.10,217.02 L477.90,214.84 L478.71,213.63 L479.52,211.61 L480.32,213.60 L481.13,216.78 L481.94,218.06 L482.74,220.79 L483.55,224.40 L484.35,227.74 L485.16,228.00 L485.97,229.68 L486.77,229.35 L487.58,243.37 L488.39,256.77 L489.19,227.74 L490.00,223.96 L490.81,220.45 L491.61,218.06 L492.42,219.22 L493.23,220.40 L494.03,222.90 L494.84,222.08 L495.65,221.02 L496.45,221.29 L497.10,206.30 L497.74,192.26 L498.71,183.53 L499.68,176.13 L500.48,180.70 L501.29,185.81 L502.10,193.22 L502.90,201.94 L503.71,215.68 L504.52,227.74 L505.32,225.30 L506.13,224.11 L506.94,222.90 L507.74,222.76 L508.55,221.28 L509.35,221.29 L510.16,221.64 L510.97,223.40 L511.77,224.52 L512.58,225.49 L513.39,224.73 L514.19,226.13 L515.00,226.47 L515.81,226.02 L516.61,225.80 L517.42,224.52 L518.23,224.94 L519.03,226.25 L519.84,227.74 L520.65,238.51 L521.45,248.71 L522.40,260.00" fill="none" stroke="#d3621f" stroke-width="1.6" stroke-linejoin="round"/>
<path d="M75.60,234.65 L76.42,235.66 L77.28,235.79 L78.13,236.59 L78.98,236.93 L79.84,241.59 L80.69,246.04 L81.55,252.26 L82.40,257.42 L83.54,250.59 L84.39,245.00 L85.25,239.21 L86.10,225.32 L86.95,211.88 L87.81,206.43 L88.66,200.49 L89.40,196.06 L90.14,190.82 L90.94,202.77 L92.08,228.96 L92.93,234.09 L93.79,240.34 L94.64,246.31 L95.49,252.87 L96.35,254.32 L97.20,257.42 L98.06,255.86 L98.91,255.15 L99.76,253.84 L100.62,254.01 L101.47,251.24 L102.33,249.45 L103.01,251.45 L103.69,252.87 L104.43,234.26 L105.17,214.16 L106.31,191.39 L107.30,160.00 L108.30,147.50 L109.30,160.00 L109.73,182.28 L110.86,189.11 L112.00,197.08 L113.14,219.85 L114.00,229.29 L114.85,239.21 L115.70,242.72 L116.56,246.04 L117.41,245.68 L118.27,243.76 L119.40,241.48 L120.54,248.31 L121.68,252.87 L122.54,250.94 L123.39,250.59 L124.24,253.25 L125.10,257.42 L126.24,259.70 L127.37,225.54 L128.18,210.27 L128.99,194.62 L129.80,178.20 L130.79,185.69 L131.93,208.46 L132.78,219.01 L133.64,227.82 L134.55,228.96 L135.69,241.48 L136.83,243.76 L137.97,238.07 L139.11,241.48 L139.96,243.41 L140.82,244.90 L141.95,254.01 L143.09,247.18 L144.23,242.62 L145.09,241.68 L145.94,239.21 L147.08,247.18 L148.22,249.45 L149.07,247.19 L149.92,246.04 L151.06,241.48 L152.20,243.76 L153.06,240.64 L153.91,236.93 L154.76,235.96 L155.62,233.51 L156.47,236.34 L157.33,238.07 L158.18,236.04 L159.03,235.79 L159.89,236.88 L160.74,238.07 L161.60,238.96 L162.45,239.21 L163.30,240.87 L164.16,243.76 L165.01,236.62 L165.86,228.96 L167.00,222.13 L167.86,224.73 L168.71,225.54 L169.85,216.43 L170.99,223.27 L171.84,227.51 L172.70,231.24 L173.83,233.51 L174.97,246.04 L176.11,241.48 L176.97,238.94 L177.82,234.65 L178.96,227.82 L180.10,231.24 L180.95,236.91 L181.80,243.76 L182.66,245.97 L183.51,248.31 L184.37,246.10 L185.22,244.90 L186.36,242.62 L187.50,248.31 L188.00,248.80 L188.85,250.72 L189.71,252.73 L190.56,253.92 L191.42,253.77 L192.27,254.42 L193.12,255.63 L193.98,256.50 L194.83,255.19 L195.68,255.63 L196.54,256.10 L197.39,256.43 L198.25,257.34 L199.10,250.61 L199.95,245.38 L200.81,235.52 L201.66,224.89 L202.52,220.70 L203.37,218.06 L204.22,224.55 L205.08,231.72 L205.93,238.42 L206.78,245.38 L207.64,246.75 L208.49,246.82 L209.35,247.09 L210.20,244.68 L211.05,244.46 L211.91,241.97 L212.76,244.19 L213.61,247.09 L214.47,239.69 L215.32,233.43 L216.18,227.84 L217.03,221.45 L217.88,216.35 L218.74,207.33 L219.59,199.28 L220.45,191.60 L221.30,185.61 L222.15,179.95 L223.01,174.52 L223.86,181.99 L224.71,189.03 L225.57,195.01 L226.42,202.69 L227.28,213.33 L228.13,224.89 L228.98,222.83 L229.84,221.48 L230.69,218.31 L231.55,216.35 L232.40,220.15 L233.25,224.89 L234.11,228.37 L234.96,231.72 L235.81,224.71 L236.67,217.29 L237.52,211.23 L238.38,203.58 L239.23,197.85 L240.08,190.74 L240.94,195.98 L241.79,200.72 L242.64,204.40 L243.50,207.48 L244.35,212.27 L245.21,216.35 L246.06,223.10 L246.91,228.31 L247.77,235.14 L248.62,229.87 L249.48,224.37 L250.33,219.77 L251.18,217.47 L252.04,215.47 L252.89,214.64 L253.74,212.51 L254.60,210.60 L255.45,209.52 L256.31,206.49 L257.16,202.97 L258.01,200.98 L258.87,196.03 L259.72,190.74 L260.58,197.30 L261.43,204.40 L262.28,209.02 L263.14,213.08 L263.99,218.06 L264.84,216.25 L265.70,214.64 L266.55,198.70 L267.41,182.20 L268.26,180.26 L269.11,177.08 L269.97,177.32 L270.82,177.00 L271.67,177.08 L272.53,186.49 L273.38,194.15 L274.24,189.41 L275.09,185.61 L275.82,192.36 L276.55,198.77 L277.27,205.77 L278.00,212.94 L278.85,222.55 L279.71,231.72 L280.56,230.26 L281.42,228.31 L282.27,223.40 L283.12,216.08 L283.98,211.23 L284.83,208.98 L285.68,207.81 L286.54,212.23 L287.39,216.35 L288.25,223.47 L289.10,230.01 L289.95,229.36 L290.81,228.31 L291.66,215.04 L292.52,202.69 L293.37,181.50 L294.22,158.25 L295.08,136.84 L295.76,132.63 L296.44,128.31 L297.13,135.14 L298.15,169.97 L299.35,180.49 L300.20,186.56 L301.05,193.61 L301.91,199.28 L302.76,203.67 L303.61,207.81 L304.47,211.66 L305.32,216.35 L306.18,217.12 L307.03,216.89 L307.88,218.06 L308.74,223.46 L309.59,228.31 L310.45,230.96 L311.30,234.24 L312.15,236.84 L313.01,235.27 L313.86,235.18 L314.71,233.43 L315.57,231.52 L316.42,230.80 L317.28,230.01 L318.13,227.61 L318.98,227.43 L319.84,224.89 L320.69,215.52 L321.55,207.81 L322.74,169.97 L323.42,150.94 L324.11,133.43 L324.79,131.68 L325.47,128.31 L326.33,72.81 L327.52,112.94 L328.38,105.27 L329.23,95.86 L330.42,94.15 L331.28,111.23 L332.30,169.97 L332.64,177.08 L333.50,185.43 L334.35,194.15 L335.21,200.06 L336.06,203.91 L336.91,209.52 L337.77,204.01 L338.62,199.28 L339.48,199.12 L340.33,198.34 L341.18,197.57 L342.04,201.79 L342.89,204.40 L343.74,212.35 L344.60,221.48 L345.45,227.90 L346.31,235.14 L347.16,231.59 L348.01,228.31 L348.87,226.38 L349.72,224.60 L350.58,221.48 L351.43,222.39 L352.28,221.90 L353.14,223.18 L353.99,220.26 L354.84,218.40 L355.70,216.35 L356.55,214.99 L357.41,213.77 L358.26,211.23 L359.11,211.26 L359.97,209.90 L360.82,209.52 L361.67,212.55 L362.53,216.35 L363.38,221.41 L364.24,224.89 L365.09,222.83 L365.94,221.48 L366.75,223.20 L367.56,224.89 L368.42,223.20 L369.27,223.25 L370.12,221.48 L370.98,217.85 L371.83,212.94 L372.68,209.66 L373.54,207.81 L374.39,213.49 L375.25,218.06 L376.10,214.90 L376.95,211.23 L377.81,199.91 L378.66,187.32 L379.52,182.30 L380.37,178.78 L381.22,180.90 L382.08,183.91 L382.93,194.27 L383.78,204.40 L384.64,215.06 L385.49,224.89 L386.35,226.77 L387.20,230.01 L388.05,230.82 L388.91,231.91 L389.76,233.43 L390.61,235.92 L391.47,236.84 L392.32,234.50 L393.18,231.72 L394.03,225.76 L394.88,219.77 L395.37,233.73 L395.68,145.56 L396.00,223.36 L396.31,144.52 L396.62,228.55 L396.93,145.56 L397.24,223.36 L397.55,145.04 L397.86,228.55 L398.17,145.56 L398.49,223.36 L399.00,143.49 L399.52,218.17 L400.04,144.52 L400.56,187.05 L401.34,182.31 L402.12,178.76 L402.81,180.87 L403.50,184.08 L404.19,186.02 L404.97,200.24 L405.75,212.99 L406.52,222.70 L407.30,233.73 L407.92,232.51 L408.55,231.72 L409.40,232.72 L410.25,233.43 L411.11,233.87 L411.96,235.36 L412.81,235.14 L413.67,236.22 L414.52,236.84 L415.38,211.23 L416.12,239.96 L416.85,219.37 L417.57,199.73 L418.30,180.26 L419.02,161.98 L419.75,141.41 L420.79,161.12 L421.57,166.62 L422.34,171.49 L423.04,176.78 L423.73,181.38 L424.42,187.05 L425.11,195.03 L425.80,205.19 L426.49,212.99 L427.19,214.48 L427.88,217.29 L428.57,218.17 L429.29,217.45 L430.02,217.17 L430.74,216.35 L431.60,214.58 L432.45,212.94 L433.31,216.25 L434.16,219.77 L435.01,226.55 L435.87,231.72 L436.72,228.72 L437.58,224.89 L438.43,220.94 L439.28,217.62 L440.14,214.64 L440.99,211.84 L441.84,207.81 L442.70,206.68 L443.55,204.40 L444.41,212.05 L445.26,219.77 L446.11,226.03 L446.97,231.72 L447.82,236.76 L448.67,241.97 L449.53,246.17 L450.38,248.80 L451.24,246.03 L452.09,241.97 L452.90,237.49 L453.71,234.19 L454.52,225.09 L455.32,216.45 L456.13,209.35 L456.94,201.82 L457.74,195.48 L458.55,197.76 L459.35,198.71 L460.16,208.79 L460.97,218.06 L461.77,225.18 L462.58,232.58 L463.39,234.79 L464.19,235.31 L465.00,237.42 L465.81,235.99 L466.61,236.11 L467.42,235.81 L468.23,235.43 L469.03,233.94 L469.84,232.58 L470.65,234.30 L471.45,234.64 L472.26,235.81 L473.06,234.45 L473.87,234.37 L474.68,232.58 L475.48,232.93 L476.29,232.30 L477.10,230.97 L477.90,230.28 L478.71,228.04 L479.52,227.74 L480.32,230.09 L481.13,234.19 L481.94,233.58 L482.74,234.32 L483.55,234.19 L484.35,232.26 L485.16,231.45 L485.97,230.97 L486.77,236.48 L487.58,240.65 L488.39,238.30 L489.19,236.84 L490.00,234.19 L490.81,232.12 L491.61,229.41 L492.42,227.74 L493.23,232.11 L494.03,236.93 L494.84,240.65 L495.65,245.79 L496.45,250.32 L497.10,220.96 L497.74,192.26 L498.40,190.00 L499.34,151.84 L500.28,113.58 L500.75,113.11 L501.70,116.24 L502.64,118.30 L503.11,190.00 L503.71,200.32 L504.52,204.43 L505.32,209.40 L506.13,214.84 L506.94,213.83 L507.74,212.91 L508.55,213.23 L509.35,214.62 L510.16,216.19 L510.97,218.06 L511.77,219.38 L512.58,219.84 L513.39,221.29 L514.19,222.52 L515.00,222.39 L515.81,222.90 L516.61,223.79 L517.42,224.39 L518.23,224.52 L519.03,225.01 L519.84,227.53 L520.65,227.74 L521.61,229.12 L522.40,230.97" fill="none" stroke="#1f9468" stroke-width="1.6" stroke-linejoin="round"/>
<path d="M76.14,267.67 L76.71,279.05 L77.56,279.40 L78.42,280.19 L79.17,279.27 L79.93,279.91 L80.69,279.05 L81.45,280.20 L82.21,279.49 L82.97,280.19 L83.73,279.04 L84.49,279.17 L85.25,277.92 L86.01,276.52 L86.77,276.37 L87.52,275.64 L88.38,272.82 L89.23,271.09 L90.37,261.98 L91.51,266.53 L92.36,267.42 L93.22,268.81 L94.07,272.51 L94.92,277.92 L95.78,280.00 L96.63,281.33 L97.39,281.54 L98.15,282.73 L98.91,283.61 L99.76,283.68 L100.62,282.47 L101.47,280.46 L102.33,280.19 L103.18,279.42 L104.03,279.05 L105.17,266.53 L106.03,258.44 L106.88,250.59 L107.73,247.13 L108.59,242.05 L109.73,250.59 L110.86,266.53 L111.72,271.78 L112.57,277.92 L113.43,279.91 L114.28,280.19 L115.13,278.33 L115.99,275.64 L116.75,276.12 L117.51,274.60 L118.27,274.50 L119.02,274.11 L119.78,275.25 L120.54,275.64 L121.30,276.95 L122.06,278.24 L122.82,279.05 L123.67,279.31 L124.53,281.33 L125.67,271.09 L126.46,282.47 L127.37,225.54 L128.09,207.43 L128.80,190.00 L129.60,148.30 L130.50,122.70 L130.91,114.16 L131.71,97.08 L132.50,110.74 L133.42,107.33 L134.55,100.49 L135.47,92.52 L136.26,97.08 L136.83,114.16 L137.40,136.93 L138.54,150.59 L139.68,161.98 L140.82,166.53 L141.95,180.19 L143.09,176.78 L143.89,185.89 L144.80,177.92 L145.94,157.42 L146.85,155.15 L147.65,164.25 L148.79,175.64 L149.92,194.99 L150.49,225.54 L151.63,228.96 L152.77,231.24 L153.63,233.61 L154.48,234.65 L155.62,242.62 L156.41,268.81 L157.33,243.76 L158.18,246.37 L159.03,248.31 L160.17,241.48 L161.03,240.14 L161.88,240.34 L162.73,243.48 L163.59,244.90 L164.73,257.42 L165.58,261.43 L166.43,265.39 L167.29,264.39 L168.14,261.98 L169.28,250.59 L170.42,243.76 L171.27,245.46 L172.13,246.04 L173.27,252.87 L174.40,267.67 L175.54,264.25 L176.40,264.17 L177.25,265.39 L178.10,267.50 L178.96,269.95 L179.81,269.47 L180.67,268.81 L181.52,267.09 L182.37,264.25 L183.23,263.99 L184.08,261.98 L184.94,260.12 L185.79,257.42 L186.93,255.15 L188.07,259.70 L188.00,260.75 L188.85,261.77 L189.71,264.17 L190.56,264.72 L191.42,265.24 L192.27,265.87 L193.12,266.40 L193.98,267.15 L194.83,267.58 L195.68,267.03 L196.54,266.43 L197.39,265.87 L198.25,267.66 L199.10,268.73 L199.95,269.29 L200.81,267.52 L201.66,266.46 L202.52,265.87 L203.37,265.21 L204.22,264.52 L205.08,264.17 L205.93,265.05 L206.78,264.46 L207.64,265.87 L208.49,264.58 L209.35,263.37 L210.20,262.46 L211.05,263.52 L211.91,264.76 L212.76,265.87 L213.61,266.41 L214.47,265.48 L215.32,265.87 L216.18,265.85 L217.03,266.53 L217.88,267.58 L218.74,267.70 L219.59,265.82 L220.45,265.87 L221.30,267.70 L222.15,268.07 L223.01,269.29 L223.86,269.37 L224.71,269.74 L225.57,271.00 L226.42,271.27 L227.28,272.04 L228.13,272.70 L228.98,269.96 L229.84,268.94 L230.69,265.87 L231.55,265.34 L232.40,265.63 L233.25,264.17 L234.11,267.70 L234.96,272.70 L235.81,275.74 L236.67,279.16 L237.52,281.24 L238.38,278.41 L239.23,276.12 L240.08,274.32 L240.94,272.40 L241.79,269.29 L242.64,271.20 L243.50,272.00 L244.35,272.70 L245.21,274.63 L246.06,274.48 L246.91,277.08 L247.77,277.83 L248.62,275.40 L249.48,273.78 L250.33,271.00 L251.18,269.74 L252.04,267.18 L252.89,265.87 L253.74,266.77 L254.60,269.53 L255.45,271.00 L256.31,270.94 L257.16,269.66 L258.01,269.29 L258.87,270.71 L259.72,271.86 L260.58,272.70 L261.43,274.25 L262.28,276.56 L263.14,277.83 L263.99,275.07 L264.84,273.95 L265.70,271.00 L266.55,265.80 L267.41,261.21 L268.26,255.63 L268.94,253.68 L269.63,252.17 L270.31,249.65 L271.16,255.23 L272.02,259.04 L272.76,261.14 L273.50,264.23 L274.24,265.87 L275.09,267.89 L275.94,269.97 L276.80,271.00 L277.40,273.83 L278.00,276.12 L278.85,274.30 L279.71,273.68 L280.56,272.70 L281.42,271.22 L282.27,269.29 L283.12,259.44 L283.98,248.80 L284.83,234.88 L285.68,219.77 L286.54,213.04 L287.39,207.81 L288.25,213.51 L289.10,218.06 L290.30,255.63 L290.98,258.71 L291.66,262.46 L292.52,244.90 L293.37,228.31 L294.22,217.08 L295.08,204.40 L295.93,202.48 L296.78,200.98 L297.64,205.23 L298.49,211.23 L299.35,212.71 L300.20,214.64 L301.05,216.43 L301.91,218.06 L302.76,234.22 L303.61,248.80 L304.47,253.63 L305.32,259.04 L306.18,258.48 L307.03,257.34 L307.37,267.58 L308.05,264.48 L308.74,262.46 L309.59,262.82 L310.45,263.98 L311.30,264.17 L312.15,263.84 L313.01,265.53 L313.86,265.87 L314.71,265.81 L315.57,266.09 L316.42,265.87 L317.28,266.39 L318.13,266.20 L318.98,265.87 L319.84,264.37 L320.69,262.71 L321.55,260.75 L322.40,242.83 L323.25,224.89 L324.11,209.94 L324.96,194.15 L325.81,183.24 L326.67,173.66 L327.52,181.73 L328.38,190.74 L329.23,206.97 L330.08,224.89 L330.94,235.55 L331.79,245.38 L332.64,249.66 L333.50,255.63 L334.35,259.09 L335.21,262.18 L336.06,264.17 L336.91,265.14 L337.77,265.56 L338.62,265.87 L339.48,266.70 L340.33,269.29 L341.18,265.33 L342.04,262.46 L342.89,260.84 L343.74,259.85 L344.60,259.04 L345.45,256.93 L346.31,255.63 L347.16,261.36 L348.01,265.87 L348.87,267.70 L349.72,269.29 L350.58,271.78 L351.43,275.22 L352.28,277.83 L353.14,274.93 L353.99,271.87 L354.84,269.29 L355.70,267.44 L356.55,267.66 L357.41,265.87 L358.26,262.73 L359.11,261.79 L359.97,259.04 L360.82,260.54 L361.67,262.46 L362.53,263.05 L363.38,264.70 L364.24,265.87 L365.09,265.89 L365.94,266.37 L366.80,267.58 L367.56,269.29 L368.42,267.43 L369.27,263.88 L370.12,262.46 L370.98,262.31 L371.83,263.00 L372.68,264.17 L373.54,265.85 L374.39,268.24 L375.25,271.00 L376.10,269.89 L376.95,266.82 L377.81,265.87 L378.66,263.56 L379.52,261.00 L380.37,259.04 L381.22,257.45 L382.08,257.34 L382.93,259.26 L383.78,262.46 L384.64,266.24 L385.49,269.29 L386.35,269.04 L387.20,269.76 L388.05,271.00 L388.91,273.40 L389.76,274.13 L390.61,276.12 L391.47,277.28 L392.32,279.54 L393.18,277.27 L394.03,276.12 L394.71,271.87 L395.40,265.87 L396.08,211.23 L397.10,269.29 L397.79,207.81 L398.81,265.87 L399.67,204.40 L400.86,241.97 L401.71,242.03 L402.57,243.67 L403.42,244.00 L404.28,245.38 L405.13,254.78 L405.98,262.46 L406.84,263.89 L407.69,265.87 L408.55,268.31 L409.40,269.29 L410.25,269.97 L411.11,269.60 L411.96,271.00 L412.81,271.23 L413.67,272.76 L414.52,272.70 L415.20,250.19 L415.89,228.31 L416.71,190.41 L417.53,153.16 L418.36,114.39 L419.18,77.78 L420.00,39.90 L420.90,70.21 L421.79,100.67 L422.69,129.95 L423.59,161.12 L424.26,171.08 L424.94,181.87 L425.72,195.73 L426.49,207.80 L427.19,214.74 L427.88,221.67 L428.57,228.55 L429.23,230.99 L429.89,231.72 L430.74,229.71 L431.60,228.31 L432.45,226.71 L433.31,226.60 L434.16,232.35 L435.01,238.55 L435.87,244.01 L436.72,248.80 L437.58,256.34 L438.43,262.46 L439.28,265.82 L440.14,267.58 L440.99,263.57 L441.84,259.04 L442.70,256.77 L443.55,255.63 L444.41,255.41 L445.26,257.49 L446.11,257.34 L446.97,257.15 L447.82,258.28 L448.67,259.04 L449.53,260.36 L450.38,260.43 L451.24,260.75 L452.09,259.71 L452.94,259.07 L453.80,259.04 L454.57,253.22 L455.35,247.52 L456.13,240.65 L457.10,236.27 L458.06,230.97 L458.71,234.11 L459.35,235.81 L460.16,241.44 L460.97,248.71 L461.77,251.90 L462.58,256.77 L463.39,261.80 L464.19,268.06 L465.00,260.27 L465.81,251.94 L466.61,253.91 L467.42,253.65 L468.23,255.16 L469.03,256.28 L469.84,256.10 L470.65,256.77 L471.45,253.99 L472.26,250.32 L473.06,251.20 L473.87,252.67 L474.68,253.55 L475.48,252.58 L476.29,249.59 L477.10,248.71 L477.90,249.59 L478.71,250.17 L479.52,251.94 L480.32,255.50 L481.13,260.00 L481.94,261.37 L482.74,262.59 L483.55,263.23 L484.35,265.02 L485.16,266.15 L485.97,266.45 L486.77,267.65 L487.58,269.68 L488.39,266.93 L489.19,262.69 L490.00,260.00 L490.81,259.26 L491.61,256.21 L492.42,255.16 L493.23,257.46 L494.03,260.85 L494.84,263.23 L495.65,266.19 L496.45,269.68 L497.26,227.05 L498.06,185.81 L499.03,181.73 L500.00,176.13 L500.89,174.68 L501.77,172.90 L502.90,192.26 L503.71,206.95 L504.52,221.29 L505.32,226.63 L506.13,231.30 L506.94,237.42 L507.74,243.57 L508.55,250.32 L509.35,252.49 L510.16,254.88 L510.97,256.77 L511.77,256.51 L512.58,253.84 L513.39,253.55 L514.19,253.25 L515.00,251.94 L515.81,252.74 L516.61,255.10 L517.42,256.77 L518.23,258.76 L519.03,262.78 L519.84,264.84 L520.75,266.62 L521.67,267.83 L522.40,269.68" fill="none" stroke="#1a6cae" stroke-width="1.6" stroke-linejoin="round"/>
<line x1="129.0" y1="17.1" x2="129.0" y2="290.5" stroke="#8c8c8c" stroke-opacity="0.8" stroke-width="0.9" stroke-dasharray="1 1.55"/>
<line x1="201.3" y1="17.1" x2="201.3" y2="290.5" stroke="#8c8c8c" stroke-opacity="0.8" stroke-width="0.9" stroke-dasharray="1 1.55"/>
<line x1="294.3" y1="17.1" x2="294.3" y2="290.5" stroke="#8c8c8c" stroke-opacity="0.8" stroke-width="0.9" stroke-dasharray="1 1.55"/>
<line x1="378.5" y1="17.1" x2="378.5" y2="290.5" stroke="#8c8c8c" stroke-opacity="0.8" stroke-width="0.9" stroke-dasharray="1 1.55"/>
<line x1="396.8" y1="17.1" x2="396.8" y2="290.5" stroke="#8c8c8c" stroke-opacity="0.8" stroke-width="0.9" stroke-dasharray="1 1.55"/>
<line x1="417.5" y1="17.1" x2="417.5" y2="290.5" stroke="#8c8c8c" stroke-opacity="0.8" stroke-width="0.9" stroke-dasharray="1 1.55"/>
<line x1="458.2" y1="17.1" x2="458.2" y2="290.5" stroke="#8c8c8c" stroke-opacity="0.8" stroke-width="0.9" stroke-dasharray="1 1.55"/>
<line x1="499.3" y1="17.1" x2="499.3" y2="290.5" stroke="#8c8c8c" stroke-opacity="0.8" stroke-width="0.9" stroke-dasharray="1 1.55"/>
</g>
<rect x="75.6" y="17.1" width="446.79999999999995" height="273.4" fill="none" stroke="#a0a0a0" stroke-width="1.1"/>
<line x1="72.1" y1="290.50" x2="75.6" y2="290.50" stroke="#a0a0a0" stroke-width="1"/>
<text x="71.00" y="294.20" font-size="10.6" text-anchor="end" font-weight="bold" fill="#111" stroke="#111" stroke-width="0.3" textLength="5.95" lengthAdjust="spacingAndGlyphs">0</text>
<line x1="72.1" y1="233.45" x2="75.6" y2="233.45" stroke="#a0a0a0" stroke-width="1"/>
<text x="71.00" y="237.15" font-size="10.6" text-anchor="end" font-weight="bold" fill="#111" stroke="#111" stroke-width="0.3" textLength="5.95" lengthAdjust="spacingAndGlyphs">5</text>
<line x1="72.1" y1="176.39" x2="75.6" y2="176.39" stroke="#a0a0a0" stroke-width="1"/>
<text x="71.00" y="180.09" font-size="10.6" text-anchor="end" font-weight="bold" fill="#111" stroke="#111" stroke-width="0.3" textLength="11.90" lengthAdjust="spacingAndGlyphs">10</text>
<line x1="72.1" y1="119.34" x2="75.6" y2="119.34" stroke="#a0a0a0" stroke-width="1"/>
<text x="71.00" y="123.04" font-size="10.6" text-anchor="end" font-weight="bold" fill="#111" stroke="#111" stroke-width="0.3" textLength="11.90" lengthAdjust="spacingAndGlyphs">15</text>
<line x1="72.1" y1="62.29" x2="75.6" y2="62.29" stroke="#a0a0a0" stroke-width="1"/>
<text x="71.00" y="65.99" font-size="10.6" text-anchor="end" font-weight="bold" fill="#111" stroke="#111" stroke-width="0.3" textLength="11.90" lengthAdjust="spacingAndGlyphs">20</text>
<line x1="75.60" y1="290.5" x2="75.60" y2="294.0" stroke="#a0a0a0" stroke-width="1"/>
<text x="74.40" y="299.80" font-size="10.6" text-anchor="end" font-weight="bold" fill="#111" stroke="#111" stroke-width="0.3" textLength="40.50" lengthAdjust="spacingAndGlyphs" transform="rotate(-45 74.40 299.80)">2012-01</text>
<line x1="103.43" y1="290.5" x2="103.43" y2="294.0" stroke="#a0a0a0" stroke-width="1"/>
<text x="102.23" y="299.80" font-size="10.6" text-anchor="end" font-weight="bold" fill="#111" stroke="#111" stroke-width="0.3" textLength="40.50" lengthAdjust="spacingAndGlyphs" transform="rotate(-45 102.23 299.80)">2012-07</text>
<line x1="131.56" y1="290.5" x2="131.56" y2="294.0" stroke="#a0a0a0" stroke-width="1"/>
<text x="130.36" y="299.80" font-size="10.6" text-anchor="end" font-weight="bold" fill="#111" stroke="#111" stroke-width="0.3" textLength="40.50" lengthAdjust="spacingAndGlyphs" transform="rotate(-45 130.36 299.80)">2013-01</text>
<line x1="159.24" y1="290.5" x2="159.24" y2="294.0" stroke="#a0a0a0" stroke-width="1"/>
<text x="158.04" y="299.80" font-size="10.6" text-anchor="end" font-weight="bold" fill="#111" stroke="#111" stroke-width="0.3" textLength="40.50" lengthAdjust="spacingAndGlyphs" transform="rotate(-45 158.04 299.80)">2013-07</text>
<line x1="187.38" y1="290.5" x2="187.38" y2="294.0" stroke="#a0a0a0" stroke-width="1"/>
<text x="186.18" y="299.80" font-size="10.6" text-anchor="end" font-weight="bold" fill="#111" stroke="#111" stroke-width="0.3" textLength="40.50" lengthAdjust="spacingAndGlyphs" transform="rotate(-45 186.18 299.80)">2014-01</text>
<line x1="215.05" y1="290.5" x2="215.05" y2="294.0" stroke="#a0a0a0" stroke-width="1"/>
<text x="213.85" y="299.80" font-size="10.6" text-anchor="end" font-weight="bold" fill="#111" stroke="#111" stroke-width="0.3" textLength="40.50" lengthAdjust="spacingAndGlyphs" transform="rotate(-45 213.85 299.80)">2014-07</text>
<line x1="243.19" y1="290.5" x2="243.19" y2="294.0" stroke="#a0a0a0" stroke-width="1"/>
<text x="241.99" y="299.80" font-size="10.6" text-anchor="end" font-weight="bold" fill="#111" stroke="#111" stroke-width="0.3" textLength="40.50" lengthAdjust="spacingAndGlyphs" transform="rotate(-45 241.99 299.80)">2015-01</text>
<line x1="270.86" y1="290.5" x2="270.86" y2="294.0" stroke="#a0a0a0" stroke-width="1"/>
<text x="269.66" y="299.80" font-size="10.6" text-anchor="end" font-weight="bold" fill="#111" stroke="#111" stroke-width="0.3" textLength="40.50" lengthAdjust="spacingAndGlyphs" transform="rotate(-45 269.66 299.80)">2015-07</text>
<line x1="299.00" y1="290.5" x2="299.00" y2="294.0" stroke="#a0a0a0" stroke-width="1"/>
<text x="297.80" y="299.80" font-size="10.6" text-anchor="end" font-weight="bold" fill="#111" stroke="#111" stroke-width="0.3" textLength="40.50" lengthAdjust="spacingAndGlyphs" transform="rotate(-45 297.80 299.80)">2016-01</text>
<line x1="326.83" y1="290.5" x2="326.83" y2="294.0" stroke="#a0a0a0" stroke-width="1"/>
<text x="325.63" y="299.80" font-size="10.6" text-anchor="end" font-weight="bold" fill="#111" stroke="#111" stroke-width="0.3" textLength="40.50" lengthAdjust="spacingAndGlyphs" transform="rotate(-45 325.63 299.80)">2016-07</text>
<line x1="354.96" y1="290.5" x2="354.96" y2="294.0" stroke="#a0a0a0" stroke-width="1"/>
<text x="353.76" y="299.80" font-size="10.6" text-anchor="end" font-weight="bold" fill="#111" stroke="#111" stroke-width="0.3" textLength="40.50" lengthAdjust="spacingAndGlyphs" transform="rotate(-45 353.76 299.80)">2017-01</text>
<line x1="382.64" y1="290.5" x2="382.64" y2="294.0" stroke="#a0a0a0" stroke-width="1"/>
<text x="381.44" y="299.80" font-size="10.6" text-anchor="end" font-weight="bold" fill="#111" stroke="#111" stroke-width="0.3" textLength="40.50" lengthAdjust="spacingAndGlyphs" transform="rotate(-45 381.44 299.80)">2017-07</text>
<line x1="410.78" y1="290.5" x2="410.78" y2="294.0" stroke="#a0a0a0" stroke-width="1"/>
<text x="409.58" y="299.80" font-size="10.6" text-anchor="end" font-weight="bold" fill="#111" stroke="#111" stroke-width="0.3" textLength="40.50" lengthAdjust="spacingAndGlyphs" transform="rotate(-45 409.58 299.80)">2018-01</text>
<line x1="438.45" y1="290.5" x2="438.45" y2="294.0" stroke="#a0a0a0" stroke-width="1"/>
<text x="437.25" y="299.80" font-size="10.6" text-anchor="end" font-weight="bold" fill="#111" stroke="#111" stroke-width="0.3" textLength="40.50" lengthAdjust="spacingAndGlyphs" transform="rotate(-45 437.25 299.80)">2018-07</text>
<line x1="466.59" y1="290.5" x2="466.59" y2="294.0" stroke="#a0a0a0" stroke-width="1"/>
<text x="465.39" y="299.80" font-size="10.6" text-anchor="end" font-weight="bold" fill="#111" stroke="#111" stroke-width="0.3" textLength="40.50" lengthAdjust="spacingAndGlyphs" transform="rotate(-45 465.39 299.80)">2019-01</text>
<line x1="494.26" y1="290.5" x2="494.26" y2="294.0" stroke="#a0a0a0" stroke-width="1"/>
<text x="493.06" y="299.80" font-size="10.6" text-anchor="end" font-weight="bold" fill="#111" stroke="#111" stroke-width="0.3" textLength="40.50" lengthAdjust="spacingAndGlyphs" transform="rotate(-45 493.06 299.80)">2019-07</text>
<line x1="522.40" y1="290.5" x2="522.40" y2="294.0" stroke="#a0a0a0" stroke-width="1"/>
<text x="521.20" y="299.80" font-size="10.6" text-anchor="end" font-weight="bold" fill="#111" stroke="#111" stroke-width="0.3" textLength="40.50" lengthAdjust="spacingAndGlyphs" transform="rotate(-45 521.20 299.80)">2020-01</text>
<text x="213.00" y="13.30" font-size="14.8" text-anchor="start" font-weight="bold" fill="#111" stroke="#111" stroke-width="0.25" textLength="173.00" lengthAdjust="spacingAndGlyphs">ProQuest Media Articles</text>
<line x1="86.6" y1="31.900000000000002" x2="99.89999999999999" y2="31.900000000000002" stroke="#d3621f" stroke-width="1.5"/>
<text x="106.60" y="36.80" font-size="10.8" text-anchor="start" font-weight="bold" fill="#111" stroke="#111" stroke-width="0.25" textLength="32.20" lengthAdjust="spacingAndGlyphs">Crime</text>
<line x1="163.4" y1="31.900000000000002" x2="176.70000000000002" y2="31.900000000000002" stroke="#1f9468" stroke-width="1.5"/>
<text x="182.80" y="36.80" font-size="10.8" text-anchor="start" font-weight="bold" fill="#111" stroke="#111" stroke-width="0.25" textLength="55.00" lengthAdjust="spacingAndGlyphs">Shootings</text>
<line x1="262.3" y1="31.900000000000002" x2="275.6" y2="31.900000000000002" stroke="#1a6cae" stroke-width="1.5"/>
<text x="282.30" y="36.80" font-size="10.8" text-anchor="start" font-weight="bold" fill="#111" stroke="#111" stroke-width="0.25" textLength="157.80" lengthAdjust="spacingAndGlyphs">Firearm Laws &amp; Regulations</text>
<text x="53.30" y="220.20" font-size="14" text-anchor="start" font-weight="bold" fill="#111" stroke="#111" stroke-width="0.2" textLength="133.70" lengthAdjust="spacingAndGlyphs" transform="rotate(-90 53.30 220.20)">Number of Articles</text>
<text x="137.60" y="91.00" font-size="10.8" text-anchor="start" font-weight="bold" fill="#111" stroke="#111" stroke-width="0.3" textLength="46.50" lengthAdjust="spacingAndGlyphs" transform="rotate(-90 137.60 91.00)">Newtown</text>
<text x="209.40" y="96.70" font-size="10.8" text-anchor="start" font-weight="bold" fill="#111" stroke="#111" stroke-width="0.3" textLength="51.30" lengthAdjust="spacingAndGlyphs" transform="rotate(-90 209.40 96.70)">Fort Hood</text>
<text x="302.80" y="121.80" font-size="10.8" text-anchor="start" font-weight="bold" fill="#111" stroke="#111" stroke-width="0.3" textLength="77.00" lengthAdjust="spacingAndGlyphs" transform="rotate(-90 302.80 121.80)">San Bernardino</text>
<text x="386.60" y="83.60" font-size="10.8" text-anchor="start" font-weight="bold" fill="#111" stroke="#111" stroke-width="0.3" textLength="39.20" lengthAdjust="spacingAndGlyphs" transform="rotate(-90 386.60 83.60)">Orlando</text>
<text x="404.90" y="94.20" font-size="10.8" text-anchor="start" font-weight="bold" fill="#111" stroke="#111" stroke-width="0.3" textLength="49.80" lengthAdjust="spacingAndGlyphs" transform="rotate(-90 404.90 94.20)">Las Vegas</text>
<text x="433.90" y="87.40" font-size="10.8" text-anchor="start" font-weight="bold" fill="#111" stroke="#111" stroke-width="0.3" textLength="43.00" lengthAdjust="spacingAndGlyphs" transform="rotate(-90 433.90 87.40)">Parkland</text>
<text x="466.60" y="122.00" font-size="10.8" text-anchor="start" font-weight="bold" fill="#111" stroke="#111" stroke-width="0.3" textLength="77.70" lengthAdjust="spacingAndGlyphs" transform="rotate(-90 466.60 122.00)">Thousand Oaks</text>
<text x="507.40" y="81.50" font-size="10.8" text-anchor="start" font-weight="bold" fill="#111" stroke="#111" stroke-width="0.3" textLength="37.20" lengthAdjust="spacingAndGlyphs" transform="rotate(-90 507.40 81.50)">El Paso</text>
<clipPath id="clipb"><rect x="75.6" y="373.3" width="446.79999999999995" height="273.59999999999997"/></clipPath>
<g clip-path="url(#clipb)">
<path d="M75.90,646.90 L75.90,593.80 L76.56,626.24 L77.42,625.37 L78.27,625.00 L79.12,624.54 L79.98,623.20 L80.83,622.32 L81.68,621.12 L82.54,618.56 L83.39,616.00 L84.59,617.70 L85.27,600.09 L85.95,581.84 L86.81,565.26 L87.66,547.69 L88.34,538.36 L89.03,529.20 L89.71,519.52 L90.39,534.10 L91.08,547.69 L91.59,598.92 L91.93,547.69 L93.13,573.31 L93.81,580.36 L94.49,586.97 L95.17,591.22 L95.86,593.80 L97.05,590.38 L97.91,595.79 L98.76,600.63 L99.61,606.49 L100.47,610.87 L101.32,613.60 L102.18,617.70 L103.03,620.86 L103.88,624.54 L104.74,610.87 L105.59,598.67 L106.45,586.97 L107.30,575.68 L108.15,564.77 L109.35,551.96 L110.20,566.48 L110.89,567.41 L111.57,569.89 L112.42,578.75 L113.28,586.97 L114.13,594.23 L114.98,600.63 L115.84,606.61 L116.69,610.87 L117.55,614.11 L118.40,617.70 L119.25,619.99 L120.11,621.12 L120.96,622.54 L121.81,622.83 L122.67,618.68 L123.52,614.29 L124.38,607.06 L125.23,600.63 L126.08,603.48 L126.94,607.46 L127.62,595.21 L128.30,581.84 L129.50,561.35 L130.35,559.81 L131.21,559.64 L132.06,562.77 L132.91,564.77 L134.11,573.31 L135.13,551.11 L135.82,551.65 L136.50,551.44 L137.18,552.81 L138.04,551.69 L138.89,551.11 L139.74,556.31 L140.60,561.35 L141.45,566.13 L142.31,569.89 L143.16,575.65 L144.01,581.84 L144.87,577.94 L145.72,573.31 L146.40,571.08 L147.09,567.72 L147.77,564.77 L148.45,566.70 L149.14,569.89 L149.99,574.65 L150.84,580.14 L151.70,586.57 L152.55,592.09 L153.41,593.80 L154.26,595.51 L155.11,594.78 L155.97,593.80 L156.82,596.17 L157.67,597.21 L158.53,601.41 L159.38,605.75 L160.24,603.95 L161.09,600.63 L161.94,596.33 L162.80,593.80 L163.40,593.97 L164.00,593.80 L164.85,590.72 L165.71,588.67 L166.39,586.63 L167.07,586.11 L167.93,589.28 L168.78,593.80 L169.46,597.43 L170.15,601.37 L170.83,604.04 L171.68,607.35 L172.54,610.87 L173.22,605.35 L173.90,598.07 L174.59,616.00 L175.27,614.26 L175.95,614.29 L176.81,610.23 L177.66,607.46 L178.52,603.72 L179.37,600.63 L180.22,598.51 L181.08,597.21 L181.76,595.91 L182.44,594.37 L183.13,593.80 L183.81,591.71 L184.49,588.67 L185.35,594.21 L186.20,600.63 L187.05,603.73 L187.91,608.67 L188.76,612.58 L189.61,605.97 L190.47,600.63 L191.21,595.36 L191.95,592.03 L192.69,586.97 L193.37,588.27 L194.05,589.04 L194.74,590.38 L195.59,592.91 L196.45,597.21 L197.30,595.01 L198.15,593.80 L199.01,596.60 L199.86,600.63 L200.71,605.93 L201.57,610.87 L202.42,614.99 L203.28,617.70 L204.13,612.62 L204.98,607.46 L205.84,601.09 L206.69,593.80 L207.55,592.78 L208.40,590.84 L209.25,590.38 L210.11,588.70 L210.96,588.67 L211.81,590.57 L212.67,592.75 L213.52,593.80 L214.38,598.97 L215.23,604.04 L216.08,610.48 L216.94,616.00 L217.62,620.07 L218.30,624.54 L219.50,621.12 L220.35,617.92 L221.21,616.00 L222.06,615.18 L222.91,614.29 L223.77,615.57 L224.62,616.21 L225.48,616.00 L226.33,616.74 L227.18,616.45 L228.04,617.70 L228.89,616.99 L229.74,615.68 L230.60,614.29 L231.45,612.49 L232.31,609.17 L233.16,606.19 L234.01,603.19 L234.87,604.55 L235.72,606.55 L236.58,607.46 L237.43,610.77 L238.28,615.16 L239.14,617.70 L239.99,612.11 L240.84,607.46 L241.70,607.28 L242.55,605.63 L243.41,605.75 L244.26,608.33 L245.11,610.87 L245.97,612.07 L246.82,611.38 L247.67,612.58 L248.53,611.88 L249.38,612.25 L250.24,610.41 L251.09,610.87 L251.82,609.76 L252.55,608.57 L253.27,608.82 L254.00,607.46 L254.85,606.65 L255.71,605.75 L256.39,605.15 L257.07,605.16 L257.76,604.04 L258.61,607.77 L259.46,610.87 L260.20,611.32 L260.94,612.46 L261.68,612.58 L262.54,614.03 L263.39,615.37 L264.25,616.00 L265.10,610.91 L265.95,607.46 L266.81,604.06 L267.66,602.34 L268.52,597.76 L269.37,592.09 L270.22,596.95 L271.08,602.34 L271.93,604.99 L272.78,608.92 L273.64,612.58 L274.49,608.71 L275.35,605.38 L276.20,602.34 L277.05,603.16 L277.91,603.80 L278.76,605.75 L279.61,608.07 L280.47,609.62 L281.32,610.87 L282.18,610.25 L283.03,611.65 L283.88,610.87 L284.74,604.42 L285.59,598.92 L286.45,595.58 L287.30,592.77 L288.15,589.53 L289.01,593.64 L289.86,597.21 L290.71,598.03 L291.57,598.92 L292.42,601.74 L293.28,604.04 L294.13,598.30 L294.98,593.80 L295.84,597.26 L296.69,600.63 L297.55,605.92 L298.40,610.87 L299.25,605.70 L300.11,600.63 L300.96,597.10 L301.81,594.68 L302.67,590.38 L303.52,594.73 L304.38,600.63 L305.12,600.36 L305.86,599.20 L306.60,598.92 L307.28,601.44 L307.96,603.29 L308.64,605.75 L309.50,606.52 L310.35,606.15 L311.21,607.46 L312.06,607.13 L312.91,605.59 L313.77,605.75 L314.62,605.45 L315.48,602.99 L316.33,602.34 L317.18,601.61 L318.04,600.72 L318.89,600.45 L319.74,598.92 L320.60,592.79 L321.45,586.97 L322.31,578.53 L323.16,571.60 L324.01,563.92 L324.87,556.23 L326.06,545.98 L326.75,549.40 L327.43,552.81 L328.28,563.90 L329.14,573.31 L329.99,579.19 L330.84,583.55 L331.70,586.74 L332.55,590.38 L333.41,594.92 L334.26,600.63 L335.11,605.65 L335.97,609.17 L336.82,606.85 L337.67,604.04 L338.53,601.01 L339.38,597.21 L340.24,595.51 L341.09,593.80 L341.82,595.18 L342.55,596.24 L343.27,597.43 L344.00,598.92 L344.85,601.17 L345.71,602.34 L346.56,605.05 L347.42,607.46 L348.27,610.85 L349.12,612.58 L349.98,610.47 L350.83,607.46 L351.68,607.41 L352.54,609.17 L353.39,610.85 L354.25,610.87 L355.10,614.18 L355.95,616.00 L356.81,613.25 L357.66,610.87 L358.52,607.44 L359.37,604.04 L360.22,605.70 L361.08,607.46 L361.93,607.72 L362.78,606.56 L363.64,605.75 L364.49,605.75 L365.35,604.04 L366.20,604.99 L367.05,604.75 L367.91,605.75 L368.76,606.00 L369.61,606.14 L370.47,605.75 L371.21,605.63 L371.95,604.08 L372.69,603.19 L373.37,605.27 L374.05,606.50 L374.74,607.46 L375.42,608.09 L376.10,606.80 L376.79,607.46 L377.30,588.67 L378.15,584.73 L379.01,581.84 L380.20,571.60 L381.06,571.16 L381.91,571.60 L382.59,583.33 L383.28,595.51 L383.96,600.61 L384.64,607.46 L385.50,607.13 L386.35,607.46 L387.55,614.29 L388.40,612.84 L389.25,610.87 L390.11,612.74 L390.96,613.97 L391.81,614.29 L392.67,614.42 L393.52,614.29 L394.38,610.10 L395.23,607.46 L396.08,599.70 L396.94,590.38 L397.79,589.14 L398.64,586.97 L399.38,587.48 L400.12,587.75 L400.86,586.97 L402.06,593.80 L402.91,594.86 L403.77,597.21 L404.62,599.24 L405.48,602.34 L406.33,603.44 L407.18,604.04 L408.04,605.31 L408.89,607.46 L409.74,607.65 L410.60,609.17 L411.45,617.70 L412.31,621.12 L413.16,607.46 L414.01,598.92 L414.87,605.75 L415.72,603.36 L416.58,600.63 L417.43,590.80 L418.28,581.84 L419.14,569.67 L419.99,556.23 L421.19,539.15 L422.21,540.86 L422.90,200.00 L423.67,200.55 L424.43,200.03 L425.20,200.57 L425.97,199.80 L426.73,200.35 L427.50,200.00 L428.02,586.97 L428.70,587.18 L429.38,588.67 L430.24,584.45 L431.09,580.14 L431.94,579.03 L432.80,578.43 L433.40,574.28 L434.00,569.89 L434.68,573.34 L435.37,576.72 L436.56,580.14 L437.42,583.07 L438.27,586.97 L439.12,593.81 L439.98,600.63 L440.83,604.77 L441.68,607.46 L442.54,603.19 L443.39,600.63 L444.25,598.98 L445.10,597.21 L445.95,598.93 L446.81,602.34 L447.66,601.75 L448.52,600.63 L449.37,597.61 L450.22,595.51 L451.08,594.20 L451.93,592.09 L452.78,592.81 L453.64,593.11 L454.49,593.80 L455.35,591.53 L456.20,590.38 L457.05,587.11 L457.91,583.55 L458.59,581.86 L459.27,580.14 L460.13,584.06 L460.98,586.97 L461.83,594.56 L462.69,600.63 L463.54,603.25 L464.40,607.46 L465.08,608.48 L465.76,611.47 L466.45,612.58 L467.30,613.29 L468.15,614.48 L469.01,614.29 L469.86,611.11 L470.71,607.46 L471.57,600.98 L472.42,593.80 L473.28,587.24 L474.13,581.84 L474.98,575.91 L475.84,569.89 L476.69,573.37 L477.55,578.43 L478.40,582.48 L479.25,585.26 L480.11,585.68 L480.96,586.97 L481.81,589.33 L482.67,590.38 L483.52,589.35 L484.38,586.97 L485.23,584.71 L486.08,583.55 L486.94,582.54 L487.79,580.14 L488.64,577.78 L489.50,576.72 L490.35,575.80 L491.21,573.31 L492.06,571.59 L492.91,569.89 L494.11,563.06 L494.79,569.32 L495.48,576.72 L496.16,583.92 L496.84,590.38 L498.04,593.80 L498.89,587.11 L499.74,580.14 L500.60,572.04 L501.45,563.06 L502.65,551.11 L503.33,553.90 L504.01,556.23 L504.70,566.96 L505.38,576.72 L506.06,575.20 L506.75,571.39 L507.43,569.89 L508.28,565.00 L509.14,559.64 L509.99,564.79 L510.84,569.89 L511.70,575.22 L512.55,580.14 L513.41,588.39 L514.26,595.51 L515.11,593.82 L515.97,590.38 L516.82,587.37 L517.67,585.26 L518.53,587.36 L519.38,590.38 L520.24,592.00 L521.09,592.09 L521.77,593.35 L522.40,593.80 L522.40,646.90Z" fill="#b04d38" fill-opacity="0.12" stroke="none"/>
<path d="M76.05,646.90 L76.05,624.54 L76.79,625.90 L77.53,625.44 L78.27,626.24 L79.12,625.90 L79.98,625.47 L80.83,624.54 L81.68,622.61 L82.54,621.82 L83.39,621.12 L84.25,620.24 L85.10,619.41 L85.95,619.84 L86.81,619.96 L87.66,621.12 L88.52,621.55 L89.37,622.62 L90.22,622.83 L91.08,615.14 L91.42,622.83 L92.16,622.90 L92.90,622.69 L93.64,622.83 L94.83,616.00 L95.35,622.83 L96.20,624.05 L97.05,623.29 L97.91,624.54 L98.76,624.86 L99.61,625.65 L100.47,626.24 L101.32,625.97 L102.18,624.60 L103.03,624.54 L103.88,623.22 L104.74,621.80 L105.59,621.12 L106.45,619.57 L107.30,618.55 L108.15,617.70 L109.01,617.62 L109.86,617.66 L110.71,616.85 L111.57,620.00 L112.42,622.83 L113.28,624.64 L114.13,625.88 L114.98,626.24 L115.84,627.09 L116.69,626.60 L117.55,626.51 L118.40,627.10 L119.25,626.99 L120.11,626.59 L120.96,626.96 L121.81,626.24 L122.67,625.39 L123.52,625.04 L124.38,624.54 L124.89,616.00 L126.08,627.95 L126.94,627.92 L127.79,626.48 L128.64,626.24 L129.50,621.07 L130.35,616.00 L131.21,614.13 L132.06,611.09 L132.91,609.17 L133.77,609.68 L134.62,608.99 L135.48,609.17 L136.33,611.97 L137.18,613.14 L138.04,616.00 L138.89,616.49 L139.74,617.74 L140.60,619.41 L141.45,617.48 L142.31,617.90 L143.16,616.00 L144.01,615.44 L144.87,613.88 L145.72,612.91 L146.58,610.87 L147.43,613.19 L148.28,617.18 L149.14,619.41 L149.99,620.33 L150.84,623.16 L151.70,624.54 L152.55,626.79 L153.41,628.37 L154.26,629.66 L155.11,627.32 L155.97,624.54 L156.48,616.00 L156.99,624.54 L157.79,624.23 L158.59,623.55 L159.38,622.83 L160.24,621.96 L161.09,622.02 L161.94,621.12 L162.63,621.66 L163.31,621.28 L164.00,621.12 L164.85,622.40 L165.71,623.01 L166.56,622.83 L167.42,621.37 L168.27,621.28 L169.12,619.41 L169.98,618.64 L170.83,618.21 L171.68,617.70 L172.54,617.11 L173.39,617.32 L174.25,616.00 L175.10,617.01 L175.95,618.46 L176.81,618.56 L177.66,618.12 L178.52,618.57 L179.37,619.41 L180.22,619.24 L181.08,620.12 L181.93,620.81 L182.78,621.12 L183.64,621.74 L184.49,623.49 L185.35,623.36 L186.20,624.54 L187.05,622.68 L187.91,622.35 L188.76,621.12 L189.61,619.67 L190.47,617.13 L191.32,616.00 L192.18,616.69 L193.03,615.62 L193.88,616.00 L194.74,617.22 L195.59,617.35 L196.45,617.39 L197.30,617.70 L198.15,618.14 L199.01,617.42 L199.86,617.70 L200.71,619.05 L201.57,620.20 L202.42,621.12 L203.28,621.47 L204.13,622.06 L204.98,622.83 L205.84,623.55 L206.69,624.54 L207.55,624.54 L208.40,623.66 L209.25,622.70 L210.11,622.83 L210.96,622.03 L211.81,622.36 L212.67,621.02 L213.52,621.12 L214.38,623.00 L215.23,626.24 L216.08,627.20 L216.94,629.19 L217.79,631.37 L218.64,630.64 L219.50,631.48 L220.35,631.22 L221.21,631.37 L222.06,631.22 L222.91,630.39 L223.77,629.93 L224.62,629.66 L225.48,628.80 L226.33,628.86 L227.18,628.69 L228.04,627.95 L228.89,628.82 L229.74,629.42 L230.60,630.05 L231.45,631.37 L232.31,631.36 L233.16,630.95 L234.01,631.37 L234.87,630.43 L235.72,630.65 L236.58,629.66 L237.43,631.66 L238.28,633.29 L239.14,634.78 L239.99,636.13 L240.84,636.04 L241.70,636.49 L242.55,636.23 L243.41,635.43 L244.26,634.78 L245.11,634.61 L245.97,633.64 L246.82,631.95 L247.67,631.37 L248.53,630.84 L249.38,629.75 L250.24,628.45 L251.09,627.95 L251.82,627.91 L252.55,628.25 L253.27,628.16 L254.00,627.95 L254.85,628.84 L255.71,628.90 L256.56,629.66 L257.42,629.71 L258.27,630.24 L259.12,631.37 L259.98,631.82 L260.83,632.49 L261.68,632.49 L262.54,632.22 L263.39,631.98 L264.25,631.05 L265.10,631.37 L265.95,630.55 L266.81,629.28 L267.66,627.95 L268.52,626.43 L269.37,625.14 L270.22,624.54 L271.08,624.35 L271.93,623.99 L272.78,623.68 L273.64,622.36 L274.49,622.12 L275.35,621.12 L276.20,619.50 L277.05,618.35 L277.91,617.70 L278.76,617.42 L279.61,619.28 L280.47,619.64 L281.32,619.41 L282.18,619.53 L283.03,619.31 L283.88,619.41 L284.74,619.92 L285.59,618.37 L286.45,618.56 L287.30,618.03 L288.15,617.04 L289.01,616.85 L289.86,619.27 L290.71,621.60 L291.57,622.83 L292.42,622.64 L293.28,623.80 L294.13,624.54 L294.98,625.81 L295.84,625.54 L296.69,626.24 L297.55,626.03 L298.40,626.93 L299.25,626.49 L300.11,627.10 L300.96,626.62 L301.81,627.61 L302.67,627.40 L303.52,627.95 L304.38,626.26 L305.23,624.54 L306.08,621.71 L306.94,617.70 L307.79,617.31 L308.64,616.75 L309.50,616.00 L310.35,615.82 L311.21,614.19 L312.06,614.29 L312.91,614.78 L313.77,617.07 L314.62,617.70 L315.48,616.24 L316.33,616.12 L317.18,614.29 L318.04,610.60 L318.89,607.46 L319.57,605.41 L320.26,603.29 L320.94,600.63 L321.62,602.67 L322.31,604.04 L323.16,605.39 L324.01,606.03 L324.87,607.46 L325.72,608.87 L326.58,610.87 L327.43,608.41 L328.28,607.88 L329.14,605.75 L329.99,604.38 L330.84,603.23 L331.70,602.34 L332.55,603.53 L333.41,605.48 L334.26,607.46 L335.11,609.83 L335.97,610.87 L336.82,609.54 L337.67,607.46 L338.53,603.73 L339.38,598.92 L340.24,596.50 L341.09,595.51 L341.82,597.51 L342.55,598.08 L343.27,599.54 L344.00,600.63 L344.85,600.75 L345.71,602.38 L346.56,602.34 L347.42,603.64 L348.27,605.75 L349.12,607.73 L349.98,608.59 L350.83,610.87 L351.68,611.22 L352.54,611.57 L353.39,612.58 L354.25,614.23 L355.10,614.86 L355.95,616.00 L356.81,612.96 L357.66,610.87 L358.52,608.74 L359.37,607.46 L360.22,607.82 L361.08,607.78 L361.93,607.46 L362.78,608.70 L363.64,607.82 L364.49,609.17 L365.35,610.40 L366.20,610.78 L367.05,612.58 L367.91,612.43 L368.76,610.68 L369.61,610.87 L370.47,610.91 L371.32,610.28 L372.18,609.17 L373.03,610.67 L373.88,611.16 L374.74,612.58 L375.59,612.94 L376.45,615.57 L377.30,616.00 L378.15,617.19 L379.01,617.70 L379.86,616.13 L380.71,614.29 L381.57,612.69 L382.42,612.29 L383.28,610.87 L384.13,609.47 L384.98,608.61 L385.84,607.46 L386.69,609.15 L387.55,610.87 L388.40,612.73 L389.25,616.00 L390.11,618.11 L390.96,621.12 L391.81,620.41 L392.67,620.65 L393.52,621.12 L394.38,618.87 L395.23,616.97 L396.08,616.00 L396.94,614.66 L397.79,612.92 L398.64,610.87 L399.50,610.80 L400.35,610.82 L401.21,610.87 L402.06,612.07 L402.91,611.95 L403.77,612.58 L404.62,612.49 L405.48,611.75 L406.33,610.87 L407.18,611.33 L408.04,612.58 L408.89,613.45 L409.74,614.03 L410.60,614.29 L411.45,615.60 L412.31,617.70 L413.16,618.67 L414.01,619.41 L414.87,619.97 L415.72,621.47 L416.58,622.83 L417.43,620.64 L418.28,617.70 L419.14,614.29 L419.99,612.84 L420.84,610.87 L421.70,609.39 L422.55,607.46 L423.41,610.32 L424.26,612.58 L425.11,614.13 L425.97,614.29 L426.82,612.83 L427.67,610.82 L428.53,609.17 L429.38,606.69 L430.24,604.04 L431.09,602.86 L431.94,602.34 L432.63,602.61 L433.31,603.12 L434.00,602.34 L434.85,602.13 L435.71,603.84 L436.56,604.04 L437.42,605.46 L438.27,605.75 L439.12,604.16 L439.98,602.34 L440.83,614.29 L441.68,597.21 L442.54,588.39 L443.39,578.43 L444.25,568.42 L445.10,559.64 L445.95,549.40 L446.81,553.52 L447.66,557.94 L448.52,559.03 L449.37,561.73 L450.22,563.06 L451.08,549.66 L451.93,535.74 L452.78,537.38 L453.64,537.45 L454.49,538.36 L455.35,540.86 L456.03,545.53 L456.71,549.40 L457.91,530.61 L458.76,526.89 L459.61,523.78 L460.30,525.90 L460.98,527.20 L462.18,544.28 L463.03,548.13 L463.88,552.81 L464.74,614.29 L465.59,554.52 L466.45,556.35 L467.30,557.94 L468.15,549.65 L469.01,542.57 L470.20,552.81 L470.89,558.70 L471.57,563.06 L472.42,556.82 L473.28,549.40 L474.13,535.26 L474.98,520.37 L475.84,521.63 L476.69,523.78 L477.55,529.46 L478.40,535.74 L479.25,541.89 L480.11,547.69 L480.96,542.08 L481.81,535.74 L482.67,542.80 L483.52,549.40 L484.38,555.59 L485.23,561.35 L486.08,567.27 L486.94,573.31 L487.79,614.29 L488.64,569.89 L489.50,566.23 L490.35,563.06 L491.21,562.55 L492.06,563.06 L492.91,568.87 L493.77,573.31 L494.62,577.82 L495.48,583.55 L496.33,614.29 L497.18,602.34 L498.04,599.42 L498.89,597.21 L499.74,595.41 L500.60,595.35 L501.45,593.80 L502.31,596.81 L503.16,598.92 L504.01,600.72 L504.87,600.58 L505.72,602.34 L506.58,603.18 L507.43,604.52 L508.28,604.68 L509.14,605.75 L509.99,607.48 L510.84,608.38 L511.70,609.17 L512.55,611.27 L513.41,612.56 L514.26,614.29 L515.11,616.21 L515.97,618.07 L516.82,621.12 L517.67,621.31 L518.53,622.83 L519.38,619.68 L520.24,617.70 L520.98,616.47 L521.72,617.25 L522.40,616.00 L522.40,646.90Z" fill="#3f8f55" fill-opacity="0.13" stroke="none"/>
<path d="M75.90,593.80 L76.56,626.24 L77.42,625.37 L78.27,625.00 L79.12,624.54 L79.98,623.20 L80.83,622.32 L81.68,621.12 L82.54,618.56 L83.39,616.00 L84.59,617.70 L85.27,600.09 L85.95,581.84 L86.81,565.26 L87.66,547.69 L88.34,538.36 L89.03,529.20 L89.71,519.52 L90.39,534.10 L91.08,547.69 L91.59,598.92 L91.93,547.69 L93.13,573.31 L93.81,580.36 L94.49,586.97 L95.17,591.22 L95.86,593.80 L97.05,590.38 L97.91,595.79 L98.76,600.63 L99.61,606.49 L100.47,610.87 L101.32,613.60 L102.18,617.70 L103.03,620.86 L103.88,624.54 L104.74,610.87 L105.59,598.67 L106.45,586.97 L107.30,575.68 L108.15,564.77 L109.35,551.96 L110.20,566.48 L110.89,567.41 L111.57,569.89 L112.42,578.75 L113.28,586.97 L114.13,594.23 L114.98,600.63 L115.84,606.61 L116.69,610.87 L117.55,614.11 L118.40,617.70 L119.25,619.99 L120.11,621.12 L120.96,622.54 L121.81,622.83 L122.67,618.68 L123.52,614.29 L124.38,607.06 L125.23,600.63 L126.08,603.48 L126.94,607.46 L127.62,595.21 L128.30,581.84 L129.50,561.35 L130.35,559.81 L131.21,559.64 L132.06,562.77 L132.91,564.77 L134.11,573.31 L135.13,551.11 L135.82,551.65 L136.50,551.44 L137.18,552.81 L138.04,551.69 L138.89,551.11 L139.74,556.31 L140.60,561.35 L141.45,566.13 L142.31,569.89 L143.16,575.65 L144.01,581.84 L144.87,577.94 L145.72,573.31 L146.40,571.08 L147.09,567.72 L147.77,564.77 L148.45,566.70 L149.14,569.89 L149.99,574.65 L150.84,580.14 L151.70,586.57 L152.55,592.09 L153.41,593.80 L154.26,595.51 L155.11,594.78 L155.97,593.80 L156.82,596.17 L157.67,597.21 L158.53,601.41 L159.38,605.75 L160.24,603.95 L161.09,600.63 L161.94,596.33 L162.80,593.80 L163.40,593.97 L164.00,593.80 L164.85,590.72 L165.71,588.67 L166.39,586.63 L167.07,586.11 L167.93,589.28 L168.78,593.80 L169.46,597.43 L170.15,601.37 L170.83,604.04 L171.68,607.35 L172.54,610.87 L173.22,605.35 L173.90,598.07 L174.59,616.00 L175.27,614.26 L175.95,614.29 L176.81,610.23 L177.66,607.46 L178.52,603.72 L179.37,600.63 L180.22,598.51 L181.08,597.21 L181.76,595.91 L182.44,594.37 L183.13,593.80 L183.81,591.71 L184.49,588.67 L185.35,594.21 L186.20,600.63 L187.05,603.73 L187.91,608.67 L188.76,612.58 L189.61,605.97 L190.47,600.63 L191.21,595.36 L191.95,592.03 L192.69,586.97 L193.37,588.27 L194.05,589.04 L194.74,590.38 L195.59,592.91 L196.45,597.21 L197.30,595.01 L198.15,593.80 L199.01,596.60 L199.86,600.63 L200.71,605.93 L201.57,610.87 L202.42,614.99 L203.28,617.70 L204.13,612.62 L204.98,607.46 L205.84,601.09 L206.69,593.80 L207.55,592.78 L208.40,590.84 L209.25,590.38 L210.11,588.70 L210.96,588.67 L211.81,590.57 L212.67,592.75 L213.52,593.80 L214.38,598.97 L215.23,604.04 L216.08,610.48 L216.94,616.00 L217.62,620.07 L218.30,624.54 L219.50,621.12 L220.35,617.92 L221.21,616.00 L222.06,615.18 L222.91,614.29 L223.77,615.57 L224.62,616.21 L225.48,616.00 L226.33,616.74 L227.18,616.45 L228.04,617.70 L228.89,616.99 L229.74,615.68 L230.60,614.29 L231.45,612.49 L232.31,609.17 L233.16,606.19 L234.01,603.19 L234.87,604.55 L235.72,606.55 L236.58,607.46 L237.43,610.77 L238.28,615.16 L239.14,617.70 L239.99,612.11 L240.84,607.46 L241.70,607.28 L242.55,605.63 L243.41,605.75 L244.26,608.33 L245.11,610.87 L245.97,612.07 L246.82,611.38 L247.67,612.58 L248.53,611.88 L249.38,612.25 L250.24,610.41 L251.09,610.87 L251.82,609.76 L252.55,608.57 L253.27,608.82 L254.00,607.46 L254.85,606.65 L255.71,605.75 L256.39,605.15 L257.07,605.16 L257.76,604.04 L258.61,607.77 L259.46,610.87 L260.20,611.32 L260.94,612.46 L261.68,612.58 L262.54,614.03 L263.39,615.37 L264.25,616.00 L265.10,610.91 L265.95,607.46 L266.81,604.06 L267.66,602.34 L268.52,597.76 L269.37,592.09 L270.22,596.95 L271.08,602.34 L271.93,604.99 L272.78,608.92 L273.64,612.58 L274.49,608.71 L275.35,605.38 L276.20,602.34 L277.05,603.16 L277.91,603.80 L278.76,605.75 L279.61,608.07 L280.47,609.62 L281.32,610.87 L282.18,610.25 L283.03,611.65 L283.88,610.87 L284.74,604.42 L285.59,598.92 L286.45,595.58 L287.30,592.77 L288.15,589.53 L289.01,593.64 L289.86,597.21 L290.71,598.03 L291.57,598.92 L292.42,601.74 L293.28,604.04 L294.13,598.30 L294.98,593.80 L295.84,597.26 L296.69,600.63 L297.55,605.92 L298.40,610.87 L299.25,605.70 L300.11,600.63 L300.96,597.10 L301.81,594.68 L302.67,590.38 L303.52,594.73 L304.38,600.63 L305.12,600.36 L305.86,599.20 L306.60,598.92 L307.28,601.44 L307.96,603.29 L308.64,605.75 L309.50,606.52 L310.35,606.15 L311.21,607.46 L312.06,607.13 L312.91,605.59 L313.77,605.75 L314.62,605.45 L315.48,602.99 L316.33,602.34 L317.18,601.61 L318.04,600.72 L318.89,600.45 L319.74,598.92 L320.60,592.79 L321.45,586.97 L322.31,578.53 L323.16,571.60 L324.01,563.92 L324.87,556.23 L326.06,545.98 L326.75,549.40 L327.43,552.81 L328.28,563.90 L329.14,573.31 L329.99,579.19 L330.84,583.55 L331.70,586.74 L332.55,590.38 L333.41,594.92 L334.26,600.63 L335.11,605.65 L335.97,609.17 L336.82,606.85 L337.67,604.04 L338.53,601.01 L339.38,597.21 L340.24,595.51 L341.09,593.80 L341.82,595.18 L342.55,596.24 L343.27,597.43 L344.00,598.92 L344.85,601.17 L345.71,602.34 L346.56,605.05 L347.42,607.46 L348.27,610.85 L349.12,612.58 L349.98,610.47 L350.83,607.46 L351.68,607.41 L352.54,609.17 L353.39,610.85 L354.25,610.87 L355.10,614.18 L355.95,616.00 L356.81,613.25 L357.66,610.87 L358.52,607.44 L359.37,604.04 L360.22,605.70 L361.08,607.46 L361.93,607.72 L362.78,606.56 L363.64,605.75 L364.49,605.75 L365.35,604.04 L366.20,604.99 L367.05,604.75 L367.91,605.75 L368.76,606.00 L369.61,606.14 L370.47,605.75 L371.21,605.63 L371.95,604.08 L372.69,603.19 L373.37,605.27 L374.05,606.50 L374.74,607.46 L375.42,608.09 L376.10,606.80 L376.79,607.46 L377.30,588.67 L378.15,584.73 L379.01,581.84 L380.20,571.60 L381.06,571.16 L381.91,571.60 L382.59,583.33 L383.28,595.51 L383.96,600.61 L384.64,607.46 L385.50,607.13 L386.35,607.46 L387.55,614.29 L388.40,612.84 L389.25,610.87 L390.11,612.74 L390.96,613.97 L391.81,614.29 L392.67,614.42 L393.52,614.29 L394.38,610.10 L395.23,607.46 L396.08,599.70 L396.94,590.38 L397.79,589.14 L398.64,586.97 L399.38,587.48 L400.12,587.75 L400.86,586.97 L402.06,593.80 L402.91,594.86 L403.77,597.21 L404.62,599.24 L405.48,602.34 L406.33,603.44 L407.18,604.04 L408.04,605.31 L408.89,607.46 L409.74,607.65 L410.60,609.17 L411.45,617.70 L412.31,621.12 L413.16,607.46 L414.01,598.92 L414.87,605.75 L415.72,603.36 L416.58,600.63 L417.43,590.80 L418.28,581.84 L419.14,569.67 L419.99,556.23 L421.19,539.15 L422.21,540.86 L422.90,200.00 L423.67,200.55 L424.43,200.03 L425.20,200.57 L425.97,199.80 L426.73,200.35 L427.50,200.00 L428.02,586.97 L428.70,587.18 L429.38,588.67 L430.24,584.45 L431.09,580.14 L431.94,579.03 L432.80,578.43 L433.40,574.28 L434.00,569.89 L434.68,573.34 L435.37,576.72 L436.56,580.14 L437.42,583.07 L438.27,586.97 L439.12,593.81 L439.98,600.63 L440.83,604.77 L441.68,607.46 L442.54,603.19 L443.39,600.63 L444.25,598.98 L445.10,597.21 L445.95,598.93 L446.81,602.34 L447.66,601.75 L448.52,600.63 L449.37,597.61 L450.22,595.51 L451.08,594.20 L451.93,592.09 L452.78,592.81 L453.64,593.11 L454.49,593.80 L455.35,591.53 L456.20,590.38 L457.05,587.11 L457.91,583.55 L458.59,581.86 L459.27,580.14 L460.13,584.06 L460.98,586.97 L461.83,594.56 L462.69,600.63 L463.54,603.25 L464.40,607.46 L465.08,608.48 L465.76,611.47 L466.45,612.58 L467.30,613.29 L468.15,614.48 L469.01,614.29 L469.86,611.11 L470.71,607.46 L471.57,600.98 L472.42,593.80 L473.28,587.24 L474.13,581.84 L474.98,575.91 L475.84,569.89 L476.69,573.37 L477.55,578.43 L478.40,582.48 L479.25,585.26 L480.11,585.68 L480.96,586.97 L481.81,589.33 L482.67,590.38 L483.52,589.35 L484.38,586.97 L485.23,584.71 L486.08,583.55 L486.94,582.54 L487.79,580.14 L488.64,577.78 L489.50,576.72 L490.35,575.80 L491.21,573.31 L492.06,571.59 L492.91,569.89 L494.11,563.06 L494.79,569.32 L495.48,576.72 L496.16,583.92 L496.84,590.38 L498.04,593.80 L498.89,587.11 L499.74,580.14 L500.60,572.04 L501.45,563.06 L502.65,551.11 L503.33,553.90 L504.01,556.23 L504.70,566.96 L505.38,576.72 L506.06,575.20 L506.75,571.39 L507.43,569.89 L508.28,565.00 L509.14,559.64 L509.99,564.79 L510.84,569.89 L511.70,575.22 L512.55,580.14 L513.41,588.39 L514.26,595.51 L515.11,593.82 L515.97,590.38 L516.82,587.37 L517.67,585.26 L518.53,587.36 L519.38,590.38 L520.24,592.00 L521.09,592.09 L521.77,593.35 L522.40,593.80" fill="none" stroke="#b04d38" stroke-width="1.6" stroke-linejoin="round"/>
<path d="M76.05,624.54 L76.79,625.90 L77.53,625.44 L78.27,626.24 L79.12,625.90 L79.98,625.47 L80.83,624.54 L81.68,622.61 L82.54,621.82 L83.39,621.12 L84.25,620.24 L85.10,619.41 L85.95,619.84 L86.81,619.96 L87.66,621.12 L88.52,621.55 L89.37,622.62 L90.22,622.83 L91.08,615.14 L91.42,622.83 L92.16,622.90 L92.90,622.69 L93.64,622.83 L94.83,616.00 L95.35,622.83 L96.20,624.05 L97.05,623.29 L97.91,624.54 L98.76,624.86 L99.61,625.65 L100.47,626.24 L101.32,625.97 L102.18,624.60 L103.03,624.54 L103.88,623.22 L104.74,621.80 L105.59,621.12 L106.45,619.57 L107.30,618.55 L108.15,617.70 L109.01,617.62 L109.86,617.66 L110.71,616.85 L111.57,620.00 L112.42,622.83 L113.28,624.64 L114.13,625.88 L114.98,626.24 L115.84,627.09 L116.69,626.60 L117.55,626.51 L118.40,627.10 L119.25,626.99 L120.11,626.59 L120.96,626.96 L121.81,626.24 L122.67,625.39 L123.52,625.04 L124.38,624.54 L124.89,616.00 L126.08,627.95 L126.94,627.92 L127.79,626.48 L128.64,626.24 L129.50,621.07 L130.35,616.00 L131.21,614.13 L132.06,611.09 L132.91,609.17 L133.77,609.68 L134.62,608.99 L135.48,609.17 L136.33,611.97 L137.18,613.14 L138.04,616.00 L138.89,616.49 L139.74,617.74 L140.60,619.41 L141.45,617.48 L142.31,617.90 L143.16,616.00 L144.01,615.44 L144.87,613.88 L145.72,612.91 L146.58,610.87 L147.43,613.19 L148.28,617.18 L149.14,619.41 L149.99,620.33 L150.84,623.16 L151.70,624.54 L152.55,626.79 L153.41,628.37 L154.26,629.66 L155.11,627.32 L155.97,624.54 L156.48,616.00 L156.99,624.54 L157.79,624.23 L158.59,623.55 L159.38,622.83 L160.24,621.96 L161.09,622.02 L161.94,621.12 L162.63,621.66 L163.31,621.28 L164.00,621.12 L164.85,622.40 L165.71,623.01 L166.56,622.83 L167.42,621.37 L168.27,621.28 L169.12,619.41 L169.98,618.64 L170.83,618.21 L171.68,617.70 L172.54,617.11 L173.39,617.32 L174.25,616.00 L175.10,617.01 L175.95,618.46 L176.81,618.56 L177.66,618.12 L178.52,618.57 L179.37,619.41 L180.22,619.24 L181.08,620.12 L181.93,620.81 L182.78,621.12 L183.64,621.74 L184.49,623.49 L185.35,623.36 L186.20,624.54 L187.05,622.68 L187.91,622.35 L188.76,621.12 L189.61,619.67 L190.47,617.13 L191.32,616.00 L192.18,616.69 L193.03,615.62 L193.88,616.00 L194.74,617.22 L195.59,617.35 L196.45,617.39 L197.30,617.70 L198.15,618.14 L199.01,617.42 L199.86,617.70 L200.71,619.05 L201.57,620.20 L202.42,621.12 L203.28,621.47 L204.13,622.06 L204.98,622.83 L205.84,623.55 L206.69,624.54 L207.55,624.54 L208.40,623.66 L209.25,622.70 L210.11,622.83 L210.96,622.03 L211.81,622.36 L212.67,621.02 L213.52,621.12 L214.38,623.00 L215.23,626.24 L216.08,627.20 L216.94,629.19 L217.79,631.37 L218.64,630.64 L219.50,631.48 L220.35,631.22 L221.21,631.37 L222.06,631.22 L222.91,630.39 L223.77,629.93 L224.62,629.66 L225.48,628.80 L226.33,628.86 L227.18,628.69 L228.04,627.95 L228.89,628.82 L229.74,629.42 L230.60,630.05 L231.45,631.37 L232.31,631.36 L233.16,630.95 L234.01,631.37 L234.87,630.43 L235.72,630.65 L236.58,629.66 L237.43,631.66 L238.28,633.29 L239.14,634.78 L239.99,636.13 L240.84,636.04 L241.70,636.49 L242.55,636.23 L243.41,635.43 L244.26,634.78 L245.11,634.61 L245.97,633.64 L246.82,631.95 L247.67,631.37 L248.53,630.84 L249.38,629.75 L250.24,628.45 L251.09,627.95 L251.82,627.91 L252.55,628.25 L253.27,628.16 L254.00,627.95 L254.85,628.84 L255.71,628.90 L256.56,629.66 L257.42,629.71 L258.27,630.24 L259.12,631.37 L259.98,631.82 L260.83,632.49 L261.68,632.49 L262.54,632.22 L263.39,631.98 L264.25,631.05 L265.10,631.37 L265.95,630.55 L266.81,629.28 L267.66,627.95 L268.52,626.43 L269.37,625.14 L270.22,624.54 L271.08,624.35 L271.93,623.99 L272.78,623.68 L273.64,622.36 L274.49,622.12 L275.35,621.12 L276.20,619.50 L277.05,618.35 L277.91,617.70 L278.76,617.42 L279.61,619.28 L280.47,619.64 L281.32,619.41 L282.18,619.53 L283.03,619.31 L283.88,619.41 L284.74,619.92 L285.59,618.37 L286.45,618.56 L287.30,618.03 L288.15,617.04 L289.01,616.85 L289.86,619.27 L290.71,621.60 L291.57,622.83 L292.42,622.64 L293.28,623.80 L294.13,624.54 L294.98,625.81 L295.84,625.54 L296.69,626.24 L297.55,626.03 L298.40,626.93 L299.25,626.49 L300.11,627.10 L300.96,626.62 L301.81,627.61 L302.67,627.40 L303.52,627.95 L304.38,626.26 L305.23,624.54 L306.08,621.71 L306.94,617.70 L307.79,617.31 L308.64,616.75 L309.50,616.00 L310.35,615.82 L311.21,614.19 L312.06,614.29 L312.91,614.78 L313.77,617.07 L314.62,617.70 L315.48,616.24 L316.33,616.12 L317.18,614.29 L318.04,610.60 L318.89,607.46 L319.57,605.41 L320.26,603.29 L320.94,600.63 L321.62,602.67 L322.31,604.04 L323.16,605.39 L324.01,606.03 L324.87,607.46 L325.72,608.87 L326.58,610.87 L327.43,608.41 L328.28,607.88 L329.14,605.75 L329.99,604.38 L330.84,603.23 L331.70,602.34 L332.55,603.53 L333.41,605.48 L334.26,607.46 L335.11,609.83 L335.97,610.87 L336.82,609.54 L337.67,607.46 L338.53,603.73 L339.38,598.92 L340.24,596.50 L341.09,595.51 L341.82,597.51 L342.55,598.08 L343.27,599.54 L344.00,600.63 L344.85,600.75 L345.71,602.38 L346.56,602.34 L347.42,603.64 L348.27,605.75 L349.12,607.73 L349.98,608.59 L350.83,610.87 L351.68,611.22 L352.54,611.57 L353.39,612.58 L354.25,614.23 L355.10,614.86 L355.95,616.00 L356.81,612.96 L357.66,610.87 L358.52,608.74 L359.37,607.46 L360.22,607.82 L361.08,607.78 L361.93,607.46 L362.78,608.70 L363.64,607.82 L364.49,609.17 L365.35,610.40 L366.20,610.78 L367.05,612.58 L367.91,612.43 L368.76,610.68 L369.61,610.87 L370.47,610.91 L371.32,610.28 L372.18,609.17 L373.03,610.67 L373.88,611.16 L374.74,612.58 L375.59,612.94 L376.45,615.57 L377.30,616.00 L378.15,617.19 L379.01,617.70 L379.86,616.13 L380.71,614.29 L381.57,612.69 L382.42,612.29 L383.28,610.87 L384.13,609.47 L384.98,608.61 L385.84,607.46 L386.69,609.15 L387.55,610.87 L388.40,612.73 L389.25,616.00 L390.11,618.11 L390.96,621.12 L391.81,620.41 L392.67,620.65 L393.52,621.12 L394.38,618.87 L395.23,616.97 L396.08,616.00 L396.94,614.66 L397.79,612.92 L398.64,610.87 L399.50,610.80 L400.35,610.82 L401.21,610.87 L402.06,612.07 L402.91,611.95 L403.77,612.58 L404.62,612.49 L405.48,611.75 L406.33,610.87 L407.18,611.33 L408.04,612.58 L408.89,613.45 L409.74,614.03 L410.60,614.29 L411.45,615.60 L412.31,617.70 L413.16,618.67 L414.01,619.41 L414.87,619.97 L415.72,621.47 L416.58,622.83 L417.43,620.64 L418.28,617.70 L419.14,614.29 L419.99,612.84 L420.84,610.87 L421.70,609.39 L422.55,607.46 L423.41,610.32 L424.26,612.58 L425.11,614.13 L425.97,614.29 L426.82,612.83 L427.67,610.82 L428.53,609.17 L429.38,606.69 L430.24,604.04 L431.09,602.86 L431.94,602.34 L432.63,602.61 L433.31,603.12 L434.00,602.34 L434.85,602.13 L435.71,603.84 L436.56,604.04 L437.42,605.46 L438.27,605.75 L439.12,604.16 L439.98,602.34 L440.83,614.29 L441.68,597.21 L442.54,588.39 L443.39,578.43 L444.25,568.42 L445.10,559.64 L445.95,549.40 L446.81,553.52 L447.66,557.94 L448.52,559.03 L449.37,561.73 L450.22,563.06 L451.08,549.66 L451.93,535.74 L452.78,537.38 L453.64,537.45 L454.49,538.36 L455.35,540.86 L456.03,545.53 L456.71,549.40 L457.91,530.61 L458.76,526.89 L459.61,523.78 L460.30,525.90 L460.98,527.20 L462.18,544.28 L463.03,548.13 L463.88,552.81 L464.74,614.29 L465.59,554.52 L466.45,556.35 L467.30,557.94 L468.15,549.65 L469.01,542.57 L470.20,552.81 L470.89,558.70 L471.57,563.06 L472.42,556.82 L473.28,549.40 L474.13,535.26 L474.98,520.37 L475.84,521.63 L476.69,523.78 L477.55,529.46 L478.40,535.74 L479.25,541.89 L480.11,547.69 L480.96,542.08 L481.81,535.74 L482.67,542.80 L483.52,549.40 L484.38,555.59 L485.23,561.35 L486.08,567.27 L486.94,573.31 L487.79,614.29 L488.64,569.89 L489.50,566.23 L490.35,563.06 L491.21,562.55 L492.06,563.06 L492.91,568.87 L493.77,573.31 L494.62,577.82 L495.48,583.55 L496.33,614.29 L497.18,602.34 L498.04,599.42 L498.89,597.21 L499.74,595.41 L500.60,595.35 L501.45,593.80 L502.31,596.81 L503.16,598.92 L504.01,600.72 L504.87,600.58 L505.72,602.34 L506.58,603.18 L507.43,604.52 L508.28,604.68 L509.14,605.75 L509.99,607.48 L510.84,608.38 L511.70,609.17 L512.55,611.27 L513.41,612.56 L514.26,614.29 L515.11,616.21 L515.97,618.07 L516.82,621.12 L517.67,621.31 L518.53,622.83 L519.38,619.68 L520.24,617.70 L520.98,616.47 L521.72,617.25 L522.40,616.00" fill="none" stroke="#3d8a52" stroke-width="1.6" stroke-linejoin="round"/>
<line x1="129.0" y1="373.3" x2="129.0" y2="646.9" stroke="#8c8c8c" stroke-opacity="0.8" stroke-width="0.9" stroke-dasharray="1 1.55"/>
<line x1="201.3" y1="373.3" x2="201.3" y2="646.9" stroke="#8c8c8c" stroke-opacity="0.8" stroke-width="0.9" stroke-dasharray="1 1.55"/>
<line x1="294.3" y1="373.3" x2="294.3" y2="646.9" stroke="#8c8c8c" stroke-opacity="0.8" stroke-width="0.9" stroke-dasharray="1 1.55"/>
<line x1="378.5" y1="373.3" x2="378.5" y2="646.9" stroke="#8c8c8c" stroke-opacity="0.8" stroke-width="0.9" stroke-dasharray="1 1.55"/>
<line x1="396.8" y1="373.3" x2="396.8" y2="646.9" stroke="#8c8c8c" stroke-opacity="0.8" stroke-width="0.9" stroke-dasharray="1 1.55"/>
<line x1="417.5" y1="373.3" x2="417.5" y2="646.9" stroke="#8c8c8c" stroke-opacity="0.8" stroke-width="0.9" stroke-dasharray="1 1.55"/>
<line x1="458.2" y1="373.3" x2="458.2" y2="646.9" stroke="#8c8c8c" stroke-opacity="0.8" stroke-width="0.9" stroke-dasharray="1 1.55"/>
<line x1="499.3" y1="373.3" x2="499.3" y2="646.9" stroke="#8c8c8c" stroke-opacity="0.8" stroke-width="0.9" stroke-dasharray="1 1.55"/>
</g>
<rect x="75.6" y="373.3" width="446.79999999999995" height="273.59999999999997" fill="none" stroke="#a0a0a0" stroke-width="1.1"/>
<line x1="72.1" y1="646.90" x2="75.6" y2="646.90" stroke="#a0a0a0" stroke-width="1"/>
<text x="71.00" y="650.60" font-size="10.6" text-anchor="end" font-weight="bold" fill="#111" stroke="#111" stroke-width="0.3" textLength="5.95" lengthAdjust="spacingAndGlyphs">0</text>
<line x1="72.1" y1="612.70" x2="75.6" y2="612.70" stroke="#a0a0a0" stroke-width="1"/>
<text x="71.00" y="616.40" font-size="10.6" text-anchor="end" font-weight="bold" fill="#111" stroke="#111" stroke-width="0.3" textLength="11.90" lengthAdjust="spacingAndGlyphs">50</text>
<line x1="72.1" y1="578.50" x2="75.6" y2="578.50" stroke="#a0a0a0" stroke-width="1"/>
<text x="71.00" y="582.20" font-size="10.6" text-anchor="end" font-weight="bold" fill="#111" stroke="#111" stroke-width="0.3" textLength="17.85" lengthAdjust="spacingAndGlyphs">100</text>
<line x1="72.1" y1="544.30" x2="75.6" y2="544.30" stroke="#a0a0a0" stroke-width="1"/>
<text x="71.00" y="548.00" font-size="10.6" text-anchor="end" font-weight="bold" fill="#111" stroke="#111" stroke-width="0.3" textLength="17.85" lengthAdjust="spacingAndGlyphs">150</text>
<line x1="72.1" y1="510.10" x2="75.6" y2="510.10" stroke="#a0a0a0" stroke-width="1"/>
<text x="71.00" y="513.80" font-size="10.6" text-anchor="end" font-weight="bold" fill="#111" stroke="#111" stroke-width="0.3" textLength="17.85" lengthAdjust="spacingAndGlyphs">200</text>
<line x1="72.1" y1="475.90" x2="75.6" y2="475.90" stroke="#a0a0a0" stroke-width="1"/>
<text x="71.00" y="479.60" font-size="10.6" text-anchor="end" font-weight="bold" fill="#111" stroke="#111" stroke-width="0.3" textLength="17.85" lengthAdjust="spacingAndGlyphs">250</text>
<line x1="72.1" y1="441.70" x2="75.6" y2="441.70" stroke="#a0a0a0" stroke-width="1"/>
<text x="71.00" y="445.40" font-size="10.6" text-anchor="end" font-weight="bold" fill="#111" stroke="#111" stroke-width="0.3" textLength="17.85" lengthAdjust="spacingAndGlyphs">300</text>
<line x1="72.1" y1="407.50" x2="75.6" y2="407.50" stroke="#a0a0a0" stroke-width="1"/>
<text x="71.00" y="411.20" font-size="10.6" text-anchor="end" font-weight="bold" fill="#111" stroke="#111" stroke-width="0.3" textLength="17.85" lengthAdjust="spacingAndGlyphs">350</text>
<line x1="72.1" y1="373.30" x2="75.6" y2="373.30" stroke="#a0a0a0" stroke-width="1"/>
<text x="71.00" y="377.00" font-size="10.6" text-anchor="end" font-weight="bold" fill="#111" stroke="#111" stroke-width="0.3" textLength="17.85" lengthAdjust="spacingAndGlyphs">400</text>
<line x1="75.60" y1="646.9" x2="75.60" y2="650.4" stroke="#a0a0a0" stroke-width="1"/>
<text x="74.40" y="656.20" font-size="10.6" text-anchor="end" font-weight="bold" fill="#111" stroke="#111" stroke-width="0.3" textLength="40.50" lengthAdjust="spacingAndGlyphs" transform="rotate(-45 74.40 656.20)">2012-01</text>
<line x1="103.43" y1="646.9" x2="103.43" y2="650.4" stroke="#a0a0a0" stroke-width="1"/>
<text x="102.23" y="656.20" font-size="10.6" text-anchor="end" font-weight="bold" fill="#111" stroke="#111" stroke-width="0.3" textLength="40.50" lengthAdjust="spacingAndGlyphs" transform="rotate(-45 102.23 656.20)">2012-07</text>
<line x1="131.56" y1="646.9" x2="131.56" y2="650.4" stroke="#a0a0a0" stroke-width="1"/>
<text x="130.36" y="656.20" font-size="10.6" text-anchor="end" font-weight="bold" fill="#111" stroke="#111" stroke-width="0.3" textLength="40.50" lengthAdjust="spacingAndGlyphs" transform="rotate(-45 130.36 656.20)">2013-01</text>
<line x1="159.24" y1="646.9" x2="159.24" y2="650.4" stroke="#a0a0a0" stroke-width="1"/>
<text x="158.04" y="656.20" font-size="10.6" text-anchor="end" font-weight="bold" fill="#111" stroke="#111" stroke-width="0.3" textLength="40.50" lengthAdjust="spacingAndGlyphs" transform="rotate(-45 158.04 656.20)">2013-07</text>
<line x1="187.38" y1="646.9" x2="187.38" y2="650.4" stroke="#a0a0a0" stroke-width="1"/>
<text x="186.18" y="656.20" font-size="10.6" text-anchor="end" font-weight="bold" fill="#111" stroke="#111" stroke-width="0.3" textLength="40.50" lengthAdjust="spacingAndGlyphs" transform="rotate(-45 186.18 656.20)">2014-01</text>
<line x1="215.05" y1="646.9" x2="215.05" y2="650.4" stroke="#a0a0a0" stroke-width="1"/>
<text x="213.85" y="656.20" font-size="10.6" text-anchor="end" font-weight="bold" fill="#111" stroke="#111" stroke-width="0.3" textLength="40.50" lengthAdjust="spacingAndGlyphs" transform="rotate(-45 213.85 656.20)">2014-07</text>
<line x1="243.19" y1="646.9" x2="243.19" y2="650.4" stroke="#a0a0a0" stroke-width="1"/>
<text x="241.99" y="656.20" font-size="10.6" text-anchor="end" font-weight="bold" fill="#111" stroke="#111" stroke-width="0.3" textLength="40.50" lengthAdjust="spacingAndGlyphs" transform="rotate(-45 241.99 656.20)">2015-01</text>
<line x1="270.86" y1="646.9" x2="270.86" y2="650.4" stroke="#a0a0a0" stroke-width="1"/>
<text x="269.66" y="656.20" font-size="10.6" text-anchor="end" font-weight="bold" fill="#111" stroke="#111" stroke-width="0.3" textLength="40.50" lengthAdjust="spacingAndGlyphs" transform="rotate(-45 269.66 656.20)">2015-07</text>
<line x1="299.00" y1="646.9" x2="299.00" y2="650.4" stroke="#a0a0a0" stroke-width="1"/>
<text x="297.80" y="656.20" font-size="10.6" text-anchor="end" font-weight="bold" fill="#111" stroke="#111" stroke-width="0.3" textLength="40.50" lengthAdjust="spacingAndGlyphs" transform="rotate(-45 297.80 656.20)">2016-01</text>
<line x1="326.83" y1="646.9" x2="326.83" y2="650.4" stroke="#a0a0a0" stroke-width="1"/>
<text x="325.63" y="656.20" font-size="10.6" text-anchor="end" font-weight="bold" fill="#111" stroke="#111" stroke-width="0.3" textLength="40.50" lengthAdjust="spacingAndGlyphs" transform="rotate(-45 325.63 656.20)">2016-07</text>
<line x1="354.96" y1="646.9" x2="354.96" y2="650.4" stroke="#a0a0a0" stroke-width="1"/>
<text x="353.76" y="656.20" font-size="10.6" text-anchor="end" font-weight="bold" fill="#111" stroke="#111" stroke-width="0.3" textLength="40.50" lengthAdjust="spacingAndGlyphs" transform="rotate(-45 353.76 656.20)">2017-01</text>
<line x1="382.64" y1="646.9" x2="382.64" y2="650.4" stroke="#a0a0a0" stroke-width="1"/>
<text x="381.44" y="656.20" font-size="10.6" text-anchor="end" font-weight="bold" fill="#111" stroke="#111" stroke-width="0.3" textLength="40.50" lengthAdjust="spacingAndGlyphs" transform="rotate(-45 381.44 656.20)">2017-07</text>
<line x1="410.78" y1="646.9" x2="410.78" y2="650.4" stroke="#a0a0a0" stroke-width="1"/>
<text x="409.58" y="656.20" font-size="10.6" text-anchor="end" font-weight="bold" fill="#111" stroke="#111" stroke-width="0.3" textLength="40.50" lengthAdjust="spacingAndGlyphs" transform="rotate(-45 409.58 656.20)">2018-01</text>
<line x1="438.45" y1="646.9" x2="438.45" y2="650.4" stroke="#a0a0a0" stroke-width="1"/>
<text x="437.25" y="656.20" font-size="10.6" text-anchor="end" font-weight="bold" fill="#111" stroke="#111" stroke-width="0.3" textLength="40.50" lengthAdjust="spacingAndGlyphs" transform="rotate(-45 437.25 656.20)">2018-07</text>
<line x1="466.59" y1="646.9" x2="466.59" y2="650.4" stroke="#a0a0a0" stroke-width="1"/>
<text x="465.39" y="656.20" font-size="10.6" text-anchor="end" font-weight="bold" fill="#111" stroke="#111" stroke-width="0.3" textLength="40.50" lengthAdjust="spacingAndGlyphs" transform="rotate(-45 465.39 656.20)">2019-01</text>
<line x1="494.26" y1="646.9" x2="494.26" y2="650.4" stroke="#a0a0a0" stroke-width="1"/>
<text x="493.06" y="656.20" font-size="10.6" text-anchor="end" font-weight="bold" fill="#111" stroke="#111" stroke-width="0.3" textLength="40.50" lengthAdjust="spacingAndGlyphs" transform="rotate(-45 493.06 656.20)">2019-07</text>
<line x1="522.40" y1="646.9" x2="522.40" y2="650.4" stroke="#a0a0a0" stroke-width="1"/>
<text x="521.20" y="656.20" font-size="10.6" text-anchor="end" font-weight="bold" fill="#111" stroke="#111" stroke-width="0.3" textLength="40.50" lengthAdjust="spacingAndGlyphs" transform="rotate(-45 521.20 656.20)">2020-01</text>
<text x="107.10" y="368.70" font-size="14.8" text-anchor="start" font-weight="bold" fill="#111" stroke="#111" stroke-width="0.25" textLength="384.70" lengthAdjust="spacingAndGlyphs">Pro-Regulation vs. Anti-Regulation Tweets Over Time</text>
<line x1="86.4" y1="388.1" x2="99.7" y2="388.1" stroke="#b04d38" stroke-width="1.5"/>
<text x="106.20" y="393.00" font-size="10.8" text-anchor="start" font-weight="bold" fill="#111" stroke="#111" stroke-width="0.25" textLength="91.10" lengthAdjust="spacingAndGlyphs">Pro-Reg Tweets</text>
<line x1="221.3" y1="388.1" x2="234.60000000000002" y2="388.1" stroke="#3d8a52" stroke-width="1.5"/>
<text x="241.20" y="393.00" font-size="10.8" text-anchor="start" font-weight="bold" fill="#111" stroke="#111" stroke-width="0.25" textLength="95.80" lengthAdjust="spacingAndGlyphs">Anti-Reg Tweets</text>
<text x="47.40" y="575.30" font-size="14" text-anchor="start" font-weight="bold" fill="#111" stroke="#111" stroke-width="0.2" textLength="131.50" lengthAdjust="spacingAndGlyphs" transform="rotate(-90 47.40 575.30)">Number of Tweets</text>
<text x="137.60" y="446.30" font-size="10.8" text-anchor="start" font-weight="bold" fill="#111" stroke="#111" stroke-width="0.3" textLength="46.50" lengthAdjust="spacingAndGlyphs" transform="rotate(-90 137.60 446.30)">Newtown</text>
<text x="209.40" y="452.00" font-size="10.8" text-anchor="start" font-weight="bold" fill="#111" stroke="#111" stroke-width="0.3" textLength="51.30" lengthAdjust="spacingAndGlyphs" transform="rotate(-90 209.40 452.00)">Fort Hood</text>
<text x="302.80" y="477.10" font-size="10.8" text-anchor="start" font-weight="bold" fill="#111" stroke="#111" stroke-width="0.3" textLength="77.00" lengthAdjust="spacingAndGlyphs" transform="rotate(-90 302.80 477.10)">San Bernardino</text>
<text x="386.60" y="438.90" font-size="10.8" text-anchor="start" font-weight="bold" fill="#111" stroke="#111" stroke-width="0.3" textLength="39.20" lengthAdjust="spacingAndGlyphs" transform="rotate(-90 386.60 438.90)">Orlando</text>
<text x="404.90" y="449.50" font-size="10.8" text-anchor="start" font-weight="bold" fill="#111" stroke="#111" stroke-width="0.3" textLength="49.80" lengthAdjust="spacingAndGlyphs" transform="rotate(-90 404.90 449.50)">Las Vegas</text>
<text x="433.90" y="442.70" font-size="10.8" text-anchor="start" font-weight="bold" fill="#111" stroke="#111" stroke-width="0.3" textLength="43.00" lengthAdjust="spacingAndGlyphs" transform="rotate(-90 433.90 442.70)">Parkland</text>
<text x="466.60" y="477.30" font-size="10.8" text-anchor="start" font-weight="bold" fill="#111" stroke="#111" stroke-width="0.3" textLength="77.70" lengthAdjust="spacingAndGlyphs" transform="rotate(-90 466.60 477.30)">Thousand Oaks</text>
<text x="507.40" y="436.80" font-size="10.8" text-anchor="start" font-weight="bold" fill="#111" stroke="#111" stroke-width="0.3" textLength="37.20" lengthAdjust="spacingAndGlyphs" transform="rotate(-90 507.40 436.80)">El Paso</text>
<clipPath id="clipc"><rect x="75.6" y="729.4" width="446.79999999999995" height="273.80000000000007"/></clipPath>
<g clip-path="url(#clipc)">
<path d="M75.98,1003.20 L75.98,837.41 L76.38,952.39 L77.17,952.38 L77.97,952.39 L78.96,939.66 L79.95,924.64 L80.94,911.43 L81.93,900.85 L82.62,897.49 L83.32,894.90 L84.11,898.41 L84.90,904.81 L85.90,911.24 L86.89,916.71 L87.88,921.66 L88.87,928.60 L89.86,936.53 L90.65,940.50 L91.05,940.50 L91.94,940.88 L92.83,942.48 L93.83,946.48 L94.82,948.43 L95.21,948.43 L95.61,948.43 L96.80,960.33 L97.79,964.29 L98.78,963.86 L99.77,966.27 L100.76,962.19 L101.76,960.33 L102.75,963.65 L103.74,968.26 L104.73,964.30 L105.72,958.34 L106.71,953.31 L107.70,948.43 L108.69,944.87 L109.69,940.50 L110.43,941.78 L111.17,939.64 L111.92,940.33 L112.66,940.50 L113.40,937.95 L114.15,938.43 L114.89,934.50 L115.63,934.55 L116.62,932.40 L117.62,928.60 L118.36,926.63 L119.10,925.87 L119.85,923.14 L120.59,922.66 L121.58,911.15 L122.57,896.88 L123.46,882.42 L124.36,869.13 L124.56,845.34 L125.55,845.19 L126.54,845.34 L127.53,819.56 L128.52,791.81 L129.51,792.22 L130.50,789.83 L131.20,788.15 L131.89,785.86 L132.49,799.74 L133.48,835.42 L134.47,821.55 L135.46,819.98 L136.45,819.56 L137.44,821.67 L138.43,825.51 L139.42,824.84 L140.42,821.55 L141.41,834.14 L142.40,845.34 L143.39,857.64 L144.38,869.13 L145.37,879.21 L146.36,888.95 L147.35,900.22 L148.35,908.78 L149.34,913.53 L150.33,920.67 L151.32,932.15 L152.31,944.46 L153.30,952.40 L154.29,958.34 L155.19,958.84 L156.08,958.34 L156.47,958.34 L157.40,961.37 L158.32,964.13 L159.25,966.27 L160.24,967.18 L161.23,968.26 L162.15,965.14 L163.08,961.42 L164.00,958.34 L164.99,956.80 L165.98,952.39 L166.97,953.65 L167.97,956.36 L168.96,951.62 L169.95,948.43 L170.94,939.91 L171.93,932.57 L172.72,925.53 L173.52,920.67 L174.11,920.67 L174.51,920.67 L175.30,921.70 L176.09,922.25 L176.89,922.66 L177.88,918.30 L178.87,916.71 L179.86,907.98 L180.85,900.85 L181.84,892.16 L182.83,881.02 L183.53,872.36 L184.22,865.16 L185.02,875.62 L185.81,884.99 L186.60,892.64 L187.39,900.85 L188.09,911.66 L188.78,924.64 L189.77,920.67 L190.76,910.29 L191.76,896.88 L192.75,876.49 L193.74,855.25 L194.53,831.65 L195.32,809.65 L196.02,803.96 L196.71,797.76 L197.70,801.07 L198.69,805.69 L199.69,853.27 L200.68,872.05 L201.67,888.95 L202.66,895.35 L203.65,904.81 L204.64,916.50 L205.63,928.60 L206.62,936.96 L207.62,944.46 L208.36,945.22 L209.10,943.20 L209.85,943.03 L210.59,944.46 L211.33,945.31 L212.08,946.74 L212.82,947.32 L213.56,948.43 L214.26,947.02 L214.95,948.43 L215.35,948.43 L216.54,956.36 L217.53,949.67 L218.52,944.46 L219.26,943.13 L220.01,940.57 L220.75,939.94 L221.49,936.53 L222.49,933.12 L223.48,932.57 L224.22,934.43 L224.96,935.83 L225.71,936.86 L226.45,938.52 L227.19,936.63 L227.94,937.13 L228.68,936.44 L229.42,936.53 L230.17,932.99 L230.91,932.65 L231.65,927.80 L232.40,926.62 L233.14,921.67 L233.89,920.96 L234.63,917.66 L235.37,912.74 L236.36,897.35 L237.35,881.02 L238.15,867.17 L238.94,853.27 L239.93,830.47 L240.63,840.57 L241.32,849.30 L242.31,863.73 L243.30,881.02 L244.10,897.09 L244.89,914.73 L245.58,907.76 L246.28,900.85 L247.27,891.69 L248.26,884.99 L249.12,880.94 L249.98,874.70 L250.84,869.13 L251.53,872.25 L252.22,877.06 L253.11,874.72 L254.00,871.71 L254.99,886.68 L255.98,899.46 L256.97,903.90 L257.97,907.39 L258.96,912.59 L259.95,915.33 L260.94,920.16 L261.93,923.26 L262.92,927.38 L263.91,931.19 L264.90,933.50 L265.90,933.17 L266.64,933.89 L267.38,931.49 L268.13,930.77 L268.87,931.19 L269.61,930.08 L270.36,931.87 L271.10,932.17 L271.84,931.19 L272.83,927.34 L273.83,923.26 L274.82,918.87 L275.81,911.36 L276.55,908.36 L277.30,905.53 L278.04,903.46 L278.78,901.45 L279.53,901.05 L280.27,899.29 L281.01,899.83 L281.76,897.48 L282.50,895.56 L283.24,895.69 L283.99,893.71 L284.73,891.53 L285.47,890.63 L286.22,891.09 L286.96,889.12 L287.70,887.57 L288.69,885.84 L289.69,881.62 L290.68,863.78 L291.67,845.52 L292.66,824.13 L293.45,804.97 L294.25,784.48 L294.94,757.51 L295.63,730.95 L296.62,744.83 L297.62,754.74 L298.61,774.56 L299.30,788.74 L300.00,804.30 L301.18,822.15 L301.88,825.54 L302.57,826.11 L303.56,812.23 L304.36,805.83 L305.15,800.34 L305.84,798.76 L306.54,794.39 L307.53,814.21 L308.27,817.01 L309.02,820.26 L309.76,826.00 L310.50,828.09 L311.25,833.56 L311.99,836.89 L312.73,842.83 L313.48,847.92 L314.22,852.03 L314.96,857.61 L315.71,863.28 L316.45,867.74 L317.19,875.29 L317.94,882.88 L318.68,890.13 L319.42,895.50 L320.12,896.90 L320.81,899.46 L321.61,890.96 L322.40,883.60 L323.39,875.25 L324.38,863.78 L325.37,858.93 L326.36,853.87 L327.35,856.61 L328.35,857.83 L329.34,864.62 L330.33,873.69 L331.32,882.63 L332.31,893.52 L333.30,898.77 L334.29,905.41 L335.28,902.19 L336.28,899.46 L337.27,889.37 L338.26,879.64 L339.25,872.87 L340.24,863.78 L341.23,858.64 L342.22,851.88 L343.11,848.64 L344.00,845.34 L344.99,834.90 L345.98,821.55 L346.97,817.16 L347.97,809.65 L348.76,815.06 L349.55,817.58 L350.25,810.67 L350.94,805.69 L351.93,779.91 L352.92,799.74 L353.62,814.05 L354.31,829.48 L355.10,845.89 L355.90,865.16 L356.89,877.06 L357.58,876.96 L358.27,879.04 L359.07,873.19 L359.86,865.16 L360.85,847.93 L361.84,833.44 L362.83,825.07 L363.83,815.60 L364.62,812.56 L365.41,812.62 L366.11,824.09 L366.80,833.44 L367.79,844.93 L368.78,859.21 L369.77,864.61 L370.76,869.13 L371.51,873.26 L372.25,874.71 L372.99,877.94 L373.74,881.02 L374.73,888.33 L375.72,892.92 L376.71,897.07 L377.70,898.87 L378.69,895.15 L379.69,888.95 L380.68,894.16 L381.67,898.87 L382.41,903.40 L383.16,907.03 L383.90,909.37 L384.64,912.74 L385.63,907.37 L386.62,900.85 L387.37,899.43 L388.11,895.92 L388.86,895.61 L389.60,892.92 L390.59,898.57 L391.58,904.81 L392.57,897.77 L393.56,888.95 L394.56,879.05 L395.55,869.13 L396.54,845.34 L397.53,865.16 L398.52,874.20 L399.51,881.02 L400.50,876.80 L401.49,873.09 L402.49,860.10 L403.48,845.34 L404.47,831.68 L405.46,819.56 L406.45,806.20 L407.44,791.81 L408.23,806.20 L409.03,821.55 L410.02,831.01 L411.01,843.35 L411.70,862.73 L412.40,884.99 L413.39,869.13 L414.38,845.34 L415.07,861.73 L415.77,877.06 L416.56,852.40 L417.35,829.48 L418.35,813.94 L419.34,799.74 L420.33,785.86 L421.32,800.05 L422.31,813.62 L423.30,822.48 L424.29,829.48 L425.04,832.86 L425.78,839.02 L426.52,845.16 L427.27,849.30 L428.01,854.33 L428.75,859.90 L429.50,868.54 L430.24,873.09 L431.23,880.85 L432.22,888.95 L433.11,891.36 L434.00,891.53 L434.79,886.09 L435.59,883.60 L436.28,888.56 L436.97,893.52 L437.97,895.99 L438.96,897.48 L439.95,900.18 L440.94,905.41 L441.14,905.41 L441.53,899.46 L442.33,896.38 L443.12,891.58 L443.91,887.57 L444.90,882.59 L445.90,875.67 L446.89,874.21 L447.88,871.71 L448.87,874.40 L449.86,875.67 L450.85,880.07 L451.84,881.62 L452.83,880.75 L453.83,877.66 L454.82,876.23 L455.81,871.71 L456.80,864.48 L457.79,859.81 L458.78,843.95 L459.77,834.74 L460.76,828.09 L461.76,822.42 L462.75,816.20 L463.74,824.13 L464.53,833.06 L465.32,843.95 L466.02,851.24 L466.71,859.81 L467.41,865.72 L468.10,871.71 L468.89,868.87 L469.69,863.78 L470.68,860.45 L471.67,859.81 L472.66,853.27 L473.65,843.95 L474.64,835.47 L475.63,828.09 L476.62,819.77 L477.62,808.27 L478.61,811.06 L479.60,814.21 L480.59,823.40 L481.58,832.06 L482.57,837.27 L483.56,843.95 L484.36,842.24 L485.15,839.72 L485.94,838.01 L486.74,845.46 L487.53,851.88 L488.52,846.39 L489.51,843.95 L490.30,841.63 L491.10,839.82 L491.89,836.02 L492.68,844.19 L493.48,851.88 L494.47,862.36 L495.46,871.71 L496.45,883.60 L496.85,883.60 L497.24,871.71 L497.84,871.71 L498.63,865.65 L499.42,859.81 L500.42,850.83 L501.41,843.95 L502.40,849.48 L503.39,853.87 L504.38,850.55 L505.37,849.90 L506.36,845.08 L507.35,841.97 L508.10,843.27 L508.84,842.79 L509.58,843.49 L510.33,843.95 L511.32,845.46 L512.31,845.94 L513.30,840.57 L514.29,834.04 L515.28,818.87 L516.28,804.30 L517.27,790.17 L518.26,774.56 L519.25,761.68 L520.04,772.18 L520.84,784.48 L521.53,810.06 L522.22,834.04 L522.22,1003.20Z" fill="#c4503c" fill-opacity="0.19" stroke="none"/>
<path d="M75.98,837.41 L76.38,952.39 L77.17,952.38 L77.97,952.39 L78.96,939.66 L79.95,924.64 L80.94,911.43 L81.93,900.85 L82.62,897.49 L83.32,894.90 L84.11,898.41 L84.90,904.81 L85.90,911.24 L86.89,916.71 L87.88,921.66 L88.87,928.60 L89.86,936.53 L90.65,940.50 L91.05,940.50 L91.94,940.88 L92.83,942.48 L93.83,946.48 L94.82,948.43 L95.21,948.43 L95.61,948.43 L96.80,960.33 L97.79,964.29 L98.78,963.86 L99.77,966.27 L100.76,962.19 L101.76,960.33 L102.75,963.65 L103.74,968.26 L104.73,964.30 L105.72,958.34 L106.71,953.31 L107.70,948.43 L108.69,944.87 L109.69,940.50 L110.43,941.78 L111.17,939.64 L111.92,940.33 L112.66,940.50 L113.40,937.95 L114.15,938.43 L114.89,934.50 L115.63,934.55 L116.62,932.40 L117.62,928.60 L118.36,926.63 L119.10,925.87 L119.85,923.14 L120.59,922.66 L121.58,911.15 L122.57,896.88 L123.46,882.42 L124.36,869.13 L124.56,845.34 L125.55,845.19 L126.54,845.34 L127.53,819.56 L128.52,791.81 L129.51,792.22 L130.50,789.83 L131.20,788.15 L131.89,785.86 L132.49,799.74 L133.48,835.42 L134.47,821.55 L135.46,819.98 L136.45,819.56 L137.44,821.67 L138.43,825.51 L139.42,824.84 L140.42,821.55 L141.41,834.14 L142.40,845.34 L143.39,857.64 L144.38,869.13 L145.37,879.21 L146.36,888.95 L147.35,900.22 L148.35,908.78 L149.34,913.53 L150.33,920.67 L151.32,932.15 L152.31,944.46 L153.30,952.40 L154.29,958.34 L155.19,958.84 L156.08,958.34 L156.47,958.34 L157.40,961.37 L158.32,964.13 L159.25,966.27 L160.24,967.18 L161.23,968.26 L162.15,965.14 L163.08,961.42 L164.00,958.34 L164.99,956.80 L165.98,952.39 L166.97,953.65 L167.97,956.36 L168.96,951.62 L169.95,948.43 L170.94,939.91 L171.93,932.57 L172.72,925.53 L173.52,920.67 L174.11,920.67 L174.51,920.67 L175.30,921.70 L176.09,922.25 L176.89,922.66 L177.88,918.30 L178.87,916.71 L179.86,907.98 L180.85,900.85 L181.84,892.16 L182.83,881.02 L183.53,872.36 L184.22,865.16 L185.02,875.62 L185.81,884.99 L186.60,892.64 L187.39,900.85 L188.09,911.66 L188.78,924.64 L189.77,920.67 L190.76,910.29 L191.76,896.88 L192.75,876.49 L193.74,855.25 L194.53,831.65 L195.32,809.65 L196.02,803.96 L196.71,797.76 L197.70,801.07 L198.69,805.69 L199.69,853.27 L200.68,872.05 L201.67,888.95 L202.66,895.35 L203.65,904.81 L204.64,916.50 L205.63,928.60 L206.62,936.96 L207.62,944.46 L208.36,945.22 L209.10,943.20 L209.85,943.03 L210.59,944.46 L211.33,945.31 L212.08,946.74 L212.82,947.32 L213.56,948.43 L214.26,947.02 L214.95,948.43 L215.35,948.43 L216.54,956.36 L217.53,949.67 L218.52,944.46 L219.26,943.13 L220.01,940.57 L220.75,939.94 L221.49,936.53 L222.49,933.12 L223.48,932.57 L224.22,934.43 L224.96,935.83 L225.71,936.86 L226.45,938.52 L227.19,936.63 L227.94,937.13 L228.68,936.44 L229.42,936.53 L230.17,932.99 L230.91,932.65 L231.65,927.80 L232.40,926.62 L233.14,921.67 L233.89,920.96 L234.63,917.66 L235.37,912.74 L236.36,897.35 L237.35,881.02 L238.15,867.17 L238.94,853.27 L239.93,830.47 L240.63,840.57 L241.32,849.30 L242.31,863.73 L243.30,881.02 L244.10,897.09 L244.89,914.73 L245.58,907.76 L246.28,900.85 L247.27,891.69 L248.26,884.99 L249.12,880.94 L249.98,874.70 L250.84,869.13 L251.53,872.25 L252.22,877.06 L253.11,874.72 L254.00,871.71 L254.99,886.68 L255.98,899.46 L256.97,903.90 L257.97,907.39 L258.96,912.59 L259.95,915.33 L260.94,920.16 L261.93,923.26 L262.92,927.38 L263.91,931.19 L264.90,933.50 L265.90,933.17 L266.64,933.89 L267.38,931.49 L268.13,930.77 L268.87,931.19 L269.61,930.08 L270.36,931.87 L271.10,932.17 L271.84,931.19 L272.83,927.34 L273.83,923.26 L274.82,918.87 L275.81,911.36 L276.55,908.36 L277.30,905.53 L278.04,903.46 L278.78,901.45 L279.53,901.05 L280.27,899.29 L281.01,899.83 L281.76,897.48 L282.50,895.56 L283.24,895.69 L283.99,893.71 L284.73,891.53 L285.47,890.63 L286.22,891.09 L286.96,889.12 L287.70,887.57 L288.69,885.84 L289.69,881.62 L290.68,863.78 L291.67,845.52 L292.66,824.13 L293.45,804.97 L294.25,784.48 L294.94,757.51 L295.63,730.95 L296.62,744.83 L297.62,754.74 L298.61,774.56 L299.30,788.74 L300.00,804.30 L301.18,822.15 L301.88,825.54 L302.57,826.11 L303.56,812.23 L304.36,805.83 L305.15,800.34 L305.84,798.76 L306.54,794.39 L307.53,814.21 L308.27,817.01 L309.02,820.26 L309.76,826.00 L310.50,828.09 L311.25,833.56 L311.99,836.89 L312.73,842.83 L313.48,847.92 L314.22,852.03 L314.96,857.61 L315.71,863.28 L316.45,867.74 L317.19,875.29 L317.94,882.88 L318.68,890.13 L319.42,895.50 L320.12,896.90 L320.81,899.46 L321.61,890.96 L322.40,883.60 L323.39,875.25 L324.38,863.78 L325.37,858.93 L326.36,853.87 L327.35,856.61 L328.35,857.83 L329.34,864.62 L330.33,873.69 L331.32,882.63 L332.31,893.52 L333.30,898.77 L334.29,905.41 L335.28,902.19 L336.28,899.46 L337.27,889.37 L338.26,879.64 L339.25,872.87 L340.24,863.78 L341.23,858.64 L342.22,851.88 L343.11,848.64 L344.00,845.34 L344.99,834.90 L345.98,821.55 L346.97,817.16 L347.97,809.65 L348.76,815.06 L349.55,817.58 L350.25,810.67 L350.94,805.69 L351.93,779.91 L352.92,799.74 L353.62,814.05 L354.31,829.48 L355.10,845.89 L355.90,865.16 L356.89,877.06 L357.58,876.96 L358.27,879.04 L359.07,873.19 L359.86,865.16 L360.85,847.93 L361.84,833.44 L362.83,825.07 L363.83,815.60 L364.62,812.56 L365.41,812.62 L366.11,824.09 L366.80,833.44 L367.79,844.93 L368.78,859.21 L369.77,864.61 L370.76,869.13 L371.51,873.26 L372.25,874.71 L372.99,877.94 L373.74,881.02 L374.73,888.33 L375.72,892.92 L376.71,897.07 L377.70,898.87 L378.69,895.15 L379.69,888.95 L380.68,894.16 L381.67,898.87 L382.41,903.40 L383.16,907.03 L383.90,909.37 L384.64,912.74 L385.63,907.37 L386.62,900.85 L387.37,899.43 L388.11,895.92 L388.86,895.61 L389.60,892.92 L390.59,898.57 L391.58,904.81 L392.57,897.77 L393.56,888.95 L394.56,879.05 L395.55,869.13 L396.54,845.34 L397.53,865.16 L398.52,874.20 L399.51,881.02 L400.50,876.80 L401.49,873.09 L402.49,860.10 L403.48,845.34 L404.47,831.68 L405.46,819.56 L406.45,806.20 L407.44,791.81 L408.23,806.20 L409.03,821.55 L410.02,831.01 L411.01,843.35 L411.70,862.73 L412.40,884.99 L413.39,869.13 L414.38,845.34 L415.07,861.73 L415.77,877.06 L416.56,852.40 L417.35,829.48 L418.35,813.94 L419.34,799.74 L420.33,785.86 L421.32,800.05 L422.31,813.62 L423.30,822.48 L424.29,829.48 L425.04,832.86 L425.78,839.02 L426.52,845.16 L427.27,849.30 L428.01,854.33 L428.75,859.90 L429.50,868.54 L430.24,873.09 L431.23,880.85 L432.22,888.95 L433.11,891.36 L434.00,891.53 L434.79,886.09 L435.59,883.60 L436.28,888.56 L436.97,893.52 L437.97,895.99 L438.96,897.48 L439.95,900.18 L440.94,905.41 L441.14,905.41 L441.53,899.46 L442.33,896.38 L443.12,891.58 L443.91,887.57 L444.90,882.59 L445.90,875.67 L446.89,874.21 L447.88,871.71 L448.87,874.40 L449.86,875.67 L450.85,880.07 L451.84,881.62 L452.83,880.75 L453.83,877.66 L454.82,876.23 L455.81,871.71 L456.80,864.48 L457.79,859.81 L458.78,843.95 L459.77,834.74 L460.76,828.09 L461.76,822.42 L462.75,816.20 L463.74,824.13 L464.53,833.06 L465.32,843.95 L466.02,851.24 L466.71,859.81 L467.41,865.72 L468.10,871.71 L468.89,868.87 L469.69,863.78 L470.68,860.45 L471.67,859.81 L472.66,853.27 L473.65,843.95 L474.64,835.47 L475.63,828.09 L476.62,819.77 L477.62,808.27 L478.61,811.06 L479.60,814.21 L480.59,823.40 L481.58,832.06 L482.57,837.27 L483.56,843.95 L484.36,842.24 L485.15,839.72 L485.94,838.01 L486.74,845.46 L487.53,851.88 L488.52,846.39 L489.51,843.95 L490.30,841.63 L491.10,839.82 L491.89,836.02 L492.68,844.19 L493.48,851.88 L494.47,862.36 L495.46,871.71 L496.45,883.60 L496.85,883.60 L497.24,871.71 L497.84,871.71 L498.63,865.65 L499.42,859.81 L500.42,850.83 L501.41,843.95 L502.40,849.48 L503.39,853.87 L504.38,850.55 L505.37,849.90 L506.36,845.08 L507.35,841.97 L508.10,843.27 L508.84,842.79 L509.58,843.49 L510.33,843.95 L511.32,845.46 L512.31,845.94 L513.30,840.57 L514.29,834.04 L515.28,818.87 L516.28,804.30 L517.27,790.17 L518.26,774.56 L519.25,761.68 L520.04,772.18 L520.84,784.48 L521.53,810.06 L522.22,834.04" fill="none" stroke="#b84a33" stroke-width="2.0" stroke-linejoin="round"/>
<line x1="90.85" y1="940.50" x2="90.85" y2="845.34" stroke="#b84a33" stroke-width="1.1"/>
<line x1="95.41" y1="948.43" x2="95.41" y2="845.34" stroke="#b84a33" stroke-width="1.1"/>
<line x1="156.28" y1="958.34" x2="156.28" y2="845.34" stroke="#b84a33" stroke-width="1.1"/>
<line x1="174.31" y1="920.67" x2="174.31" y2="845.34" stroke="#b84a33" stroke-width="1.1"/>
<line x1="215.15" y1="948.43" x2="215.15" y2="845.34" stroke="#b84a33" stroke-width="1.1"/>
<line x1="306.93" y1="804.30" x2="306.93" y2="843.95" stroke="#b84a33" stroke-width="1.1"/>
<line x1="441.34" y1="902.44" x2="441.34" y2="844.94" stroke="#b84a33" stroke-width="1.1"/>
<line x1="497.05" y1="877.66" x2="497.05" y2="844.94" stroke="#b84a33" stroke-width="1.1"/>
<line x1="129.0" y1="729.4" x2="129.0" y2="1003.2" stroke="#8c8c8c" stroke-opacity="0.8" stroke-width="0.9" stroke-dasharray="1 1.55"/>
<line x1="201.3" y1="729.4" x2="201.3" y2="1003.2" stroke="#8c8c8c" stroke-opacity="0.8" stroke-width="0.9" stroke-dasharray="1 1.55"/>
<line x1="294.3" y1="729.4" x2="294.3" y2="1003.2" stroke="#8c8c8c" stroke-opacity="0.8" stroke-width="0.9" stroke-dasharray="1 1.55"/>
<line x1="378.5" y1="729.4" x2="378.5" y2="1003.2" stroke="#8c8c8c" stroke-opacity="0.8" stroke-width="0.9" stroke-dasharray="1 1.55"/>
<line x1="396.8" y1="729.4" x2="396.8" y2="1003.2" stroke="#8c8c8c" stroke-opacity="0.8" stroke-width="0.9" stroke-dasharray="1 1.55"/>
<line x1="417.5" y1="729.4" x2="417.5" y2="1003.2" stroke="#8c8c8c" stroke-opacity="0.8" stroke-width="0.9" stroke-dasharray="1 1.55"/>
<line x1="458.2" y1="729.4" x2="458.2" y2="1003.2" stroke="#8c8c8c" stroke-opacity="0.8" stroke-width="0.9" stroke-dasharray="1 1.55"/>
<line x1="499.3" y1="729.4" x2="499.3" y2="1003.2" stroke="#8c8c8c" stroke-opacity="0.8" stroke-width="0.9" stroke-dasharray="1 1.55"/>
</g>
<rect x="75.6" y="729.4" width="446.79999999999995" height="273.80000000000007" fill="none" stroke="#a0a0a0" stroke-width="1.1"/>
<line x1="72.1" y1="1003.20" x2="75.6" y2="1003.20" stroke="#a0a0a0" stroke-width="1"/>
<text x="71.00" y="1006.90" font-size="10.6" text-anchor="end" font-weight="bold" fill="#111" stroke="#111" stroke-width="0.3" textLength="29.75" lengthAdjust="spacingAndGlyphs">30000</text>
<line x1="72.1" y1="968.98" x2="75.6" y2="968.98" stroke="#a0a0a0" stroke-width="1"/>
<text x="71.00" y="972.68" font-size="10.6" text-anchor="end" font-weight="bold" fill="#111" stroke="#111" stroke-width="0.3" textLength="29.75" lengthAdjust="spacingAndGlyphs">40000</text>
<line x1="72.1" y1="934.75" x2="75.6" y2="934.75" stroke="#a0a0a0" stroke-width="1"/>
<text x="71.00" y="938.45" font-size="10.6" text-anchor="end" font-weight="bold" fill="#111" stroke="#111" stroke-width="0.3" textLength="29.75" lengthAdjust="spacingAndGlyphs">50000</text>
<line x1="72.1" y1="900.52" x2="75.6" y2="900.52" stroke="#a0a0a0" stroke-width="1"/>
<text x="71.00" y="904.23" font-size="10.6" text-anchor="end" font-weight="bold" fill="#111" stroke="#111" stroke-width="0.3" textLength="29.75" lengthAdjust="spacingAndGlyphs">60000</text>
<line x1="72.1" y1="866.30" x2="75.6" y2="866.30" stroke="#a0a0a0" stroke-width="1"/>
<text x="71.00" y="870.00" font-size="10.6" text-anchor="end" font-weight="bold" fill="#111" stroke="#111" stroke-width="0.3" textLength="29.75" lengthAdjust="spacingAndGlyphs">70000</text>
<line x1="72.1" y1="832.08" x2="75.6" y2="832.08" stroke="#a0a0a0" stroke-width="1"/>
<text x="71.00" y="835.78" font-size="10.6" text-anchor="end" font-weight="bold" fill="#111" stroke="#111" stroke-width="0.3" textLength="29.75" lengthAdjust="spacingAndGlyphs">80000</text>
<line x1="72.1" y1="797.85" x2="75.6" y2="797.85" stroke="#a0a0a0" stroke-width="1"/>
<text x="71.00" y="801.55" font-size="10.6" text-anchor="end" font-weight="bold" fill="#111" stroke="#111" stroke-width="0.3" textLength="29.75" lengthAdjust="spacingAndGlyphs">90000</text>
<line x1="72.1" y1="763.62" x2="75.6" y2="763.62" stroke="#a0a0a0" stroke-width="1"/>
<text x="71.00" y="767.33" font-size="10.6" text-anchor="end" font-weight="bold" fill="#111" stroke="#111" stroke-width="0.3" textLength="35.70" lengthAdjust="spacingAndGlyphs">100000</text>
<line x1="72.1" y1="729.40" x2="75.6" y2="729.40" stroke="#a0a0a0" stroke-width="1"/>
<text x="71.00" y="733.10" font-size="10.6" text-anchor="end" font-weight="bold" fill="#111" stroke="#111" stroke-width="0.3" textLength="35.70" lengthAdjust="spacingAndGlyphs">110000</text>
<line x1="75.60" y1="1003.2" x2="75.60" y2="1006.7" stroke="#a0a0a0" stroke-width="1"/>
<text x="74.40" y="1012.50" font-size="10.6" text-anchor="end" font-weight="bold" fill="#111" stroke="#111" stroke-width="0.3" textLength="40.50" lengthAdjust="spacingAndGlyphs" transform="rotate(-45 74.40 1012.50)">2012-01</text>
<line x1="103.43" y1="1003.2" x2="103.43" y2="1006.7" stroke="#a0a0a0" stroke-width="1"/>
<text x="102.23" y="1012.50" font-size="10.6" text-anchor="end" font-weight="bold" fill="#111" stroke="#111" stroke-width="0.3" textLength="40.50" lengthAdjust="spacingAndGlyphs" transform="rotate(-45 102.23 1012.50)">2012-07</text>
<line x1="131.56" y1="1003.2" x2="131.56" y2="1006.7" stroke="#a0a0a0" stroke-width="1"/>
<text x="130.36" y="1012.50" font-size="10.6" text-anchor="end" font-weight="bold" fill="#111" stroke="#111" stroke-width="0.3" textLength="40.50" lengthAdjust="spacingAndGlyphs" transform="rotate(-45 130.36 1012.50)">2013-01</text>
<line x1="159.24" y1="1003.2" x2="159.24" y2="1006.7" stroke="#a0a0a0" stroke-width="1"/>
<text x="158.04" y="1012.50" font-size="10.6" text-anchor="end" font-weight="bold" fill="#111" stroke="#111" stroke-width="0.3" textLength="40.50" lengthAdjust="spacingAndGlyphs" transform="rotate(-45 158.04 1012.50)">2013-07</text>
<line x1="187.38" y1="1003.2" x2="187.38" y2="1006.7" stroke="#a0a0a0" stroke-width="1"/>
<text x="186.18" y="1012.50" font-size="10.6" text-anchor="end" font-weight="bold" fill="#111" stroke="#111" stroke-width="0.3" textLength="40.50" lengthAdjust="spacingAndGlyphs" transform="rotate(-45 186.18 1012.50)">2014-01</text>
<line x1="215.05" y1="1003.2" x2="215.05" y2="1006.7" stroke="#a0a0a0" stroke-width="1"/>
<text x="213.85" y="1012.50" font-size="10.6" text-anchor="end" font-weight="bold" fill="#111" stroke="#111" stroke-width="0.3" textLength="40.50" lengthAdjust="spacingAndGlyphs" transform="rotate(-45 213.85 1012.50)">2014-07</text>
<line x1="243.19" y1="1003.2" x2="243.19" y2="1006.7" stroke="#a0a0a0" stroke-width="1"/>
<text x="241.99" y="1012.50" font-size="10.6" text-anchor="end" font-weight="bold" fill="#111" stroke="#111" stroke-width="0.3" textLength="40.50" lengthAdjust="spacingAndGlyphs" transform="rotate(-45 241.99 1012.50)">2015-01</text>
<line x1="270.86" y1="1003.2" x2="270.86" y2="1006.7" stroke="#a0a0a0" stroke-width="1"/>
<text x="269.66" y="1012.50" font-size="10.6" text-anchor="end" font-weight="bold" fill="#111" stroke="#111" stroke-width="0.3" textLength="40.50" lengthAdjust="spacingAndGlyphs" transform="rotate(-45 269.66 1012.50)">2015-07</text>
<line x1="299.00" y1="1003.2" x2="299.00" y2="1006.7" stroke="#a0a0a0" stroke-width="1"/>
<text x="297.80" y="1012.50" font-size="10.6" text-anchor="end" font-weight="bold" fill="#111" stroke="#111" stroke-width="0.3" textLength="40.50" lengthAdjust="spacingAndGlyphs" transform="rotate(-45 297.80 1012.50)">2016-01</text>
<line x1="326.83" y1="1003.2" x2="326.83" y2="1006.7" stroke="#a0a0a0" stroke-width="1"/>
<text x="325.63" y="1012.50" font-size="10.6" text-anchor="end" font-weight="bold" fill="#111" stroke="#111" stroke-width="0.3" textLength="40.50" lengthAdjust="spacingAndGlyphs" transform="rotate(-45 325.63 1012.50)">2016-07</text>
<line x1="354.96" y1="1003.2" x2="354.96" y2="1006.7" stroke="#a0a0a0" stroke-width="1"/>
<text x="353.76" y="1012.50" font-size="10.6" text-anchor="end" font-weight="bold" fill="#111" stroke="#111" stroke-width="0.3" textLength="40.50" lengthAdjust="spacingAndGlyphs" transform="rotate(-45 353.76 1012.50)">2017-01</text>
<line x1="382.64" y1="1003.2" x2="382.64" y2="1006.7" stroke="#a0a0a0" stroke-width="1"/>
<text x="381.44" y="1012.50" font-size="10.6" text-anchor="end" font-weight="bold" fill="#111" stroke="#111" stroke-width="0.3" textLength="40.50" lengthAdjust="spacingAndGlyphs" transform="rotate(-45 381.44 1012.50)">2017-07</text>
<line x1="410.78" y1="1003.2" x2="410.78" y2="1006.7" stroke="#a0a0a0" stroke-width="1"/>
<text x="409.58" y="1012.50" font-size="10.6" text-anchor="end" font-weight="bold" fill="#111" stroke="#111" stroke-width="0.3" textLength="40.50" lengthAdjust="spacingAndGlyphs" transform="rotate(-45 409.58 1012.50)">2018-01</text>
<line x1="438.45" y1="1003.2" x2="438.45" y2="1006.7" stroke="#a0a0a0" stroke-width="1"/>
<text x="437.25" y="1012.50" font-size="10.6" text-anchor="end" font-weight="bold" fill="#111" stroke="#111" stroke-width="0.3" textLength="40.50" lengthAdjust="spacingAndGlyphs" transform="rotate(-45 437.25 1012.50)">2018-07</text>
<line x1="466.59" y1="1003.2" x2="466.59" y2="1006.7" stroke="#a0a0a0" stroke-width="1"/>
<text x="465.39" y="1012.50" font-size="10.6" text-anchor="end" font-weight="bold" fill="#111" stroke="#111" stroke-width="0.3" textLength="40.50" lengthAdjust="spacingAndGlyphs" transform="rotate(-45 465.39 1012.50)">2019-01</text>
<line x1="494.26" y1="1003.2" x2="494.26" y2="1006.7" stroke="#a0a0a0" stroke-width="1"/>
<text x="493.06" y="1012.50" font-size="10.6" text-anchor="end" font-weight="bold" fill="#111" stroke="#111" stroke-width="0.3" textLength="40.50" lengthAdjust="spacingAndGlyphs" transform="rotate(-45 493.06 1012.50)">2019-07</text>
<line x1="522.40" y1="1003.2" x2="522.40" y2="1006.7" stroke="#a0a0a0" stroke-width="1"/>
<text x="521.20" y="1012.50" font-size="10.6" text-anchor="end" font-weight="bold" fill="#111" stroke="#111" stroke-width="0.3" textLength="40.50" lengthAdjust="spacingAndGlyphs" transform="rotate(-45 521.20 1012.50)">2020-01</text>
<text x="231.00" y="725.50" font-size="14.8" text-anchor="start" font-weight="bold" fill="#111" stroke="#111" stroke-width="0.25" textLength="138.00" lengthAdjust="spacingAndGlyphs">Background Checks</text>
<text x="28.50" y="984.50" font-size="14" text-anchor="start" font-weight="bold" fill="#111" stroke="#111" stroke-width="0.2" textLength="228.70" lengthAdjust="spacingAndGlyphs" transform="rotate(-90 28.50 984.50)">Number of Background Checks</text>
<text x="136.90" y="783.70" font-size="10.8" text-anchor="start" font-weight="bold" fill="#111" stroke="#111" stroke-width="0.3" textLength="46.70" lengthAdjust="spacingAndGlyphs" transform="rotate(-90 136.90 783.70)">Newtown</text>
<text x="209.70" y="788.70" font-size="10.8" text-anchor="start" font-weight="bold" fill="#111" stroke="#111" stroke-width="0.3" textLength="51.70" lengthAdjust="spacingAndGlyphs" transform="rotate(-90 209.70 788.70)">Fort Hood</text>
<text x="319.40" y="815.00" font-size="10.8" text-anchor="start" font-weight="bold" fill="#111" stroke="#111" stroke-width="0.3" textLength="78.00" lengthAdjust="spacingAndGlyphs" transform="rotate(-90 319.40 815.00)">San Bernardino</text>
<text x="388.00" y="776.40" font-size="10.8" text-anchor="start" font-weight="bold" fill="#111" stroke="#111" stroke-width="0.3" textLength="39.90" lengthAdjust="spacingAndGlyphs" transform="rotate(-90 388.00 776.40)">Orlando</text>
<text x="420.30" y="786.80" font-size="10.8" text-anchor="start" font-weight="bold" fill="#111" stroke="#111" stroke-width="0.3" textLength="50.30" lengthAdjust="spacingAndGlyphs" transform="rotate(-90 420.30 786.80)">Las Vegas</text>
<text x="442.90" y="780.20" font-size="10.8" text-anchor="start" font-weight="bold" fill="#111" stroke="#111" stroke-width="0.3" textLength="43.70" lengthAdjust="spacingAndGlyphs" transform="rotate(-90 442.90 780.20)">Parkland</text>
<text x="466.20" y="814.20" font-size="10.8" text-anchor="start" font-weight="bold" fill="#111" stroke="#111" stroke-width="0.3" textLength="76.90" lengthAdjust="spacingAndGlyphs" transform="rotate(-90 466.20 814.20)">Thousand Oaks</text>
<text x="506.90" y="773.60" font-size="10.8" text-anchor="start" font-weight="bold" fill="#111" stroke="#111" stroke-width="0.3" textLength="36.30" lengthAdjust="spacingAndGlyphs" transform="rotate(-90 506.90 773.60)">El Paso</text>
<text x="283.20" y="1056.40" font-size="14.3" text-anchor="start" font-weight="bold" fill="#111" stroke="#111" stroke-width="0.2" textLength="33.20" lengthAdjust="spacingAndGlyphs">Date</text>
</svg></div></body></html>
